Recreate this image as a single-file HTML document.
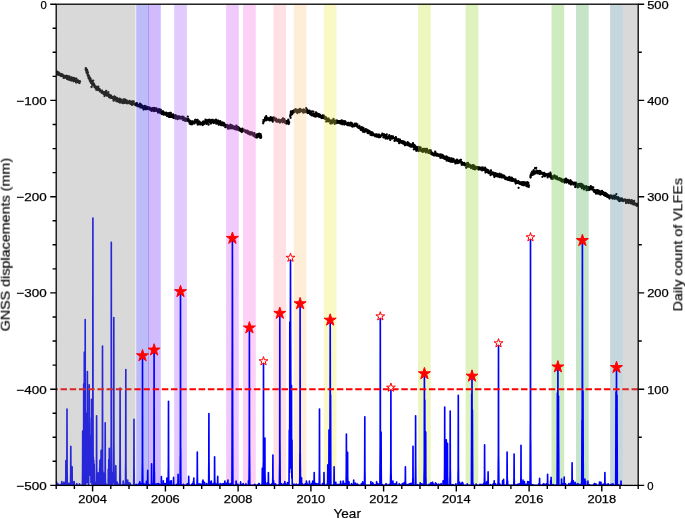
<!DOCTYPE html>
<html lang="en">
<head>
<meta charset="utf-8">
<title>GNSS displacements and daily count of VLFEs</title>
<style>
html,body{margin:0;padding:0;background:#fff;}
body{width:685px;height:519px;overflow:hidden;font-family:"Liberation Sans", sans-serif;}
svg{display:block;}
</style>
</head>
<body>
<svg width="685" height="519" viewBox="0 0 685 519">
<rect width="685" height="519" fill="#fff"/>
<defs><clipPath id="ax"><rect x="56.2" y="4.2" width="582" height="481.2"/></clipPath></defs>
<g clip-path="url(#ax)">
<path d="M57 73.5h0M57.2 71.6h0M57.4 72.6h0M57.6 74.6h0M57.8 74.3h0M58 73.5h0M58.2 73.3h0M58.4 73.7h0M58.6 72.3h0M58.8 74.9h0M59 74.4h0M59.2 74.4h0M59.4 73.1h0M59.6 73.7h0M59.8 75h0M60 74.9h0M60.2 74.4h0M60.4 75.5h0M60.6 75.8h0M60.8 74.4h0M60.9 74.7h0M61.1 74.3h0M61.3 74.1h0M61.5 76.1h0M61.7 75.9h0M61.9 75.7h0M62.1 74.3h0M62.3 74.5h0M62.5 75.5h0M62.8 75.1h0M63 75.8h0M63.2 75.1h0M63.4 76.7h0M63.6 77.9h0M63.8 77.8h0M64 77.9h0M64.2 76.6h0M64.5 77.4h0M64.7 76h0M64.9 77.6h0M65.1 76.1h0M65.3 76.2h0M65.5 76.1h0M65.7 77.6h0M65.9 77.4h0M66.2 77.2h0M66.4 76h0M66.6 77.4h0M66.8 75.8h0M67 78.9h0M67.2 77.5h0M67.4 77.9h0M67.6 77.7h0M67.8 76.2h0M68.1 76.6h0M68.3 78h0M68.5 79.7h0M68.7 77h0M68.9 77.5h0M69.1 78.1h0M69.3 76.6h0M69.5 76.6h0M69.7 78h0M69.9 78.6h0M70.1 78.3h0M70.3 80.1h0M70.5 78.5h0M70.8 79.2h0M71 80.3h0M71.2 80.6h0M71.4 77.4h0M71.6 78.6h0M71.8 80.3h0M72 77.7h0M72.2 78.2h0M72.4 77.9h0M72.6 77.9h0M72.8 78h0M73 79.5h0M73.3 80.8h0M73.5 81.3h0M73.7 79.9h0M73.9 78h0M74.1 79.8h0M74.3 79.5h0M74.5 80.4h0M74.7 80h0M74.9 78.6h0M75.2 81h0M75.4 78.6h0M75.6 80.3h0M75.8 81.2h0M76 81.2h0M76.2 82.5h0M76.4 78.6h0M76.6 81.5h0M76.8 81.9h0M77 80.9h0M77.3 82.1h0M77.5 80.3h0M77.7 82h0M77.9 81.9h0M78.1 80.5h0M78.3 81.1h0M78.6 81.5h0M78.8 81h0M79 82.7h0M79.2 81.9h0M79.4 83.1h0M79.7 82.8h0M79.9 81.7h0M80.1 81.3h0M85.7 69.6h0M85.8 68.7h0M85.8 68.1h0M85.9 68.5h0M85.9 70.2h0M86 68.5h0M86.1 68.6h0M86.1 69.6h0M86.2 70.9h0M86.2 69h0M86.3 70.6h0M86.3 70.7h0M86.4 70.7h0M86.5 70.6h0M86.5 71.9h0M86.6 71.6h0M86.6 69.7h0M86.7 72.9h0M86.8 71.8h0M86.8 71.8h0M86.9 71.4h0M86.9 71.7h0M87 69.7h0M87.1 72.1h0M87.1 73.2h0M87.2 73.5h0M87.3 72.3h0M87.3 70.8h0M87.4 72.2h0M87.5 73.3h0M87.6 75.3h0M87.6 72.4h0M87.7 74.1h0M87.8 75h0M87.8 75.2h0M87.9 74.7h0M88 72.3h0M88 75.9h0M88.1 75.7h0M88.2 76.4h0M88.2 74.9h0M88.3 75.7h0M88.4 77.8h0M88.4 76.4h0M88.5 76.7h0M88.6 76.3h0M88.7 78.3h0M88.8 75.5h0M88.9 76.7h0M89 77.8h0M89.1 77.4h0M89.2 78.5h0M89.3 78.2h0M89.4 79.6h0M89.5 78h0M89.6 78.5h0M89.7 79.3h0M89.8 77.3h0M89.9 80.7h0M90 78.5h0M90.1 80.8h0M90.2 81.4h0M90.3 81.2h0M90.4 80.7h0M90.5 80.1h0M90.6 78.7h0M90.7 81.3h0M90.8 80.6h0M90.9 82.8h0M91 80.9h0M91.1 82.1h0M91.2 81.4h0M91.3 82.5h0M91.5 87h0M91.6 82.4h0M91.8 81h0M91.9 82.1h0M92.1 82.8h0M92.2 84.4h0M92.3 83.6h0M92.5 82.4h0M92.6 85.3h0M92.8 84.1h0M92.9 85h0M93.1 83.1h0M93.2 80.7h0M93.4 83.5h0M93.5 83.6h0M93.7 85.3h0M93.8 83.7h0M93.9 84.5h0M94.1 84.2h0M94.2 85.9h0M94.4 84.9h0M94.5 87.2h0M94.7 86.9h0M94.8 87h0M95 86.3h0M95.2 86.7h0M95.3 87.7h0M95.5 86.1h0M95.7 88.2h0M95.9 87.2h0M96 88.7h0M96.2 89.8h0M96.4 89.2h0M96.5 86.9h0M96.7 89.1h0M96.9 87.5h0M97.1 87.5h0M97.2 87.8h0M97.4 87.2h0M97.6 88.9h0M97.7 87.9h0M97.9 90h0M98.1 89.4h0M98.3 86.7h0M98.4 88.5h0M98.6 88.4h0M98.8 88.9h0M98.9 88.9h0M99.1 89.8h0M99.3 89.6h0M99.5 88.8h0M99.7 90.4h0M99.8 91h0M100 90.4h0M100.2 91.6h0M100.4 91h0M100.6 90.4h0M100.8 90.6h0M101 91.2h0M101.1 91.9h0M101.3 91.5h0M101.5 92.5h0M101.7 92.8h0M101.9 90.8h0M102.1 90.7h0M102.2 91.8h0M102.4 92.6h0M102.6 93.3h0M102.8 93.1h0M103 93.3h0M103.2 91.8h0M103.3 93.3h0M103.5 92.4h0M103.7 93.6h0M103.9 94h0M104.1 92.6h0M104.3 93.2h0M104.5 96h0M104.6 92.7h0M104.8 93h0M105 92.2h0M105.2 92h0M105.4 94.5h0M105.6 92.9h0M105.8 92.9h0M106 92.7h0M106.2 90.8h0M106.4 94.6h0M106.6 93.4h0M106.8 94.1h0M106.9 95.7h0M107.1 94.1h0M107.3 94.4h0M107.5 94.5h0M107.7 95.7h0M107.9 93.1h0M108.1 93.7h0M108.3 92.2h0M108.5 94.5h0M108.7 95.4h0M108.9 94.4h0M109.1 97.3h0M109.2 96.2h0M109.4 97.2h0M109.6 95.5h0M109.8 97.4h0M110 95.1h0M110.2 96.2h0M110.4 96.1h0M110.6 95.7h0M110.8 97.8h0M111 97.5h0M111.2 95.7h0M111.4 97.3h0M111.6 97h0M111.8 97.2h0M112 97.9h0M112.2 96.9h0M112.4 97.8h0M112.6 98.2h0M112.8 97.3h0M113 97.6h0M113.2 98.9h0M113.4 98.2h0M113.6 100.7h0M113.8 100.6h0M114 97.8h0M114.2 98.9h0M114.4 96.5h0M114.6 97.9h0M114.8 97.8h0M114.9 98.1h0M115.1 96.8h0M115.3 99.3h0M115.5 99.3h0M115.7 98.3h0M115.9 99.1h0M116.1 100.1h0M116.3 101.2h0M116.5 98.3h0M116.7 101.2h0M116.9 97.8h0M117.2 98.7h0M117.4 99.3h0M117.6 101.3h0M117.8 100.5h0M118 100.5h0M118.2 101.5h0M118.4 100.4h0M118.7 99.8h0M118.9 101.9h0M119.1 100.1h0M119.3 99h0M119.5 98.7h0M119.7 100.6h0M119.9 102.5h0M120.2 101.4h0M120.4 100.9h0M120.6 102.2h0M120.8 99.4h0M121 101.3h0M121.2 100.4h0M121.4 102.5h0M121.7 100.4h0M121.9 102h0M122.1 101.6h0M122.3 101.3h0M122.5 102.1h0M122.7 101.4h0M122.9 103h0M123.2 101.4h0M123.4 99.3h0M123.6 103h0M123.8 102.9h0M124 102.1h0M124.2 102.9h0M124.5 102.2h0M124.7 100.4h0M124.9 99.3h0M125.1 100.4h0M125.3 101.2h0M125.6 102.1h0M125.8 100.1h0M126 100.6h0M126.2 103h0M126.4 100.8h0M126.6 100.7h0M126.9 100.6h0M127.1 103.3h0M127.3 102.5h0M127.5 102.5h0M127.7 103.2h0M128 102.7h0M128.2 103.2h0M128.4 102.2h0M128.6 102.7h0M128.8 102.6h0M129 102.7h0M129.3 101h0M129.5 101.8h0M129.7 101.6h0M129.9 101.2h0M130.1 102h0M130.4 103.9h0M130.6 103.2h0M130.8 102.6h0M131 102.9h0M131.2 104.2h0M131.4 101.6h0M131.6 103.4h0M131.8 104.6h0M132 104.9h0M132.3 104.1h0M132.5 103.9h0M132.7 101.5h0M132.9 102.8h0M133.1 103.4h0M133.3 103.9h0M133.5 104h0M133.7 101.4h0M133.9 103.3h0M134.1 104.4h0M134.3 103.3h0M134.6 103.8h0M134.8 104.7h0M135 104.6h0M135.2 104.4h0M135.4 105h0M135.6 105.3h0M135.8 104.1h0M136 103.3h0M136.2 103.7h0M136.4 104.1h0M136.6 104.6h0M136.9 103.2h0M137.1 104h0M137.3 104.4h0M137.5 106.2h0M137.7 105.6h0M137.9 104.7h0M138.1 105.8h0M138.3 105.2h0M138.5 105.2h0M138.7 106.3h0M138.9 105.7h0M139.1 105.6h0M139.4 106.1h0M139.6 104.9h0M139.8 105.7h0M140 103.6h0M140.2 105.2h0M140.4 107.4h0M140.6 105.5h0M140.8 105.9h0M141 105.5h0M141.2 104.7h0M141.5 106.5h0M141.7 106.2h0M141.9 107.5h0M142.1 105.6h0M142.3 106.8h0M142.5 106.5h0M142.7 106.2h0M142.9 108h0M143.2 106.3h0M143.4 106.3h0M143.6 109.5h0M143.8 107h0M144 106.9h0M144.2 107.5h0M144.4 106.2h0M144.7 107.6h0M144.9 106h0M145.1 106.8h0M145.3 106.8h0M145.5 108.9h0M145.7 108.3h0M145.9 109.3h0M146.1 109.1h0M146.4 106.7h0M146.6 107.9h0M146.8 106.9h0M147 106.9h0M147.2 108.8h0M147.4 109.1h0M147.6 107.9h0M147.9 108.2h0M148.1 108.3h0M148.3 108.3h0M148.5 108.5h0M148.7 107.3h0M148.9 109h0M149.1 107.8h0M149.3 107.3h0M149.5 108.5h0M149.7 108.9h0M149.9 109.7h0M150.1 109.4h0M150.3 109.4h0M150.5 108.3h0M150.8 109.5h0M151 109.3h0M151.2 109.6h0M151.4 108.4h0M151.6 110.9h0M151.8 110h0M152 109.9h0M152.2 109.4h0M152.4 109.1h0M152.6 110.4h0M152.8 108.2h0M153 109.1h0M153.2 109.3h0M153.4 110.1h0M153.6 109.2h0M153.9 111h0M154.1 107.9h0M154.3 111.1h0M154.5 109.8h0M154.7 110.6h0M154.9 109.4h0M155.1 110.8h0M155.3 109.5h0M155.5 110.1h0M155.7 108.5h0M156 110.6h0M156.2 110.3h0M156.4 108.4h0M156.6 110.3h0M156.8 109.9h0M157 111.1h0M157.2 109.5h0M157.5 110.5h0M157.7 111.6h0M157.9 109.6h0M158.1 112.5h0M158.3 110.8h0M158.5 110.5h0M158.8 109.5h0M159 109.2h0M159.2 112.1h0M159.4 110.8h0M159.6 110.8h0M159.8 112.7h0M160.1 112.2h0M160.3 111.8h0M160.5 110.2h0M160.7 109.7h0M160.9 112.5h0M161.1 111.6h0M161.3 111.6h0M161.5 113.8h0M161.7 111.7h0M161.9 112.3h0M162.1 114.2h0M162.3 112.7h0M162.5 111.7h0M162.7 111.5h0M162.9 113.7h0M163.1 111.3h0M163.3 113.5h0M163.5 114.5h0M163.7 112.8h0M163.8 113.7h0M164 113h0M164.2 114.5h0M164.4 113.6h0M164.6 112.7h0M164.8 113.8h0M165 113.8h0M165.2 113.2h0M165.4 113.5h0M165.6 112.9h0M165.8 113.2h0M166 114.9h0M166.2 112.6h0M166.4 114.8h0M166.6 114.5h0M166.8 114.1h0M167 116.1h0M167.2 115.4h0M167.4 114.1h0M167.6 114.8h0M167.8 115.5h0M168.1 113.2h0M168.3 115h0M168.5 114.4h0M168.7 115h0M168.9 116.9h0M169.1 114.2h0M169.3 114.5h0M169.5 113.7h0M169.7 115.2h0M169.9 115.7h0M170.1 112.8h0M170.3 116.8h0M170.6 116.9h0M170.8 112.9h0M171 114.2h0M171.2 116.1h0M171.4 115.7h0M171.6 116.9h0M171.8 115.4h0M172.1 117.1h0M172.3 114.6h0M172.5 116.6h0M172.7 115.8h0M172.9 116h0M173.1 114.5h0M173.3 115.9h0M173.5 117.9h0M173.8 115.9h0M174 116.4h0M174.2 116.8h0M174.4 115.7h0M174.6 117h0M174.8 117.5h0M175 116.8h0M175.3 115.1h0M175.5 118.6h0M175.7 117.3h0M175.9 117.3h0M176.1 117.2h0M176.3 117h0M176.5 116h0M176.7 117.7h0M177 117.8h0M177.2 118.7h0M177.4 119.2h0M177.6 116.9h0M177.8 119.1h0M178 117.5h0M178.2 118h0M178.5 116.4h0M178.7 117.9h0M178.9 116.6h0M179.1 118.4h0M179.3 116.3h0M179.5 117.5h0M179.7 117.2h0M179.9 118.2h0M180.2 117.9h0M180.4 117.8h0M180.6 117.1h0M180.8 118.5h0M181 118.2h0M181.2 116.8h0M181.4 118.4h0M181.7 117.1h0M181.9 117.9h0M182.1 117.8h0M182.3 118.1h0M182.5 119.1h0M182.7 116.6h0M182.9 119.9h0M183.2 117h0M183.4 120.1h0M183.6 119.4h0M183.8 117.5h0M184 119.5h0M184.2 118.9h0M184.5 117.9h0M184.7 120.3h0M184.9 120.3h0M185.1 119.6h0M185.3 120.9h0M185.5 119.4h0M185.7 119h0M186 120.7h0M186.2 118.7h0M186.4 120.3h0M186.6 120.7h0M186.8 120h0M187 120.1h0M187.2 120.6h0M187.4 120.3h0M187.6 119.5h0M187.8 116.6h0M188.1 119.7h0M188.3 118.8h0M188.5 121.4h0M188.7 119.9h0M188.9 120.8h0M189.1 121.6h0M189.3 122h0M189.5 120.3h0M189.7 123.7h0M189.9 122.6h0M190.1 122.6h0M190.3 121h0M190.6 124.1h0M190.8 123h0M191 123.6h0M191.2 122.1h0M191.4 124.2h0M191.6 123.8h0M191.8 122.1h0M192 124.3h0M192.2 121.4h0M192.4 123.3h0M192.6 123h0M192.9 123.1h0M193.1 121.7h0M193.3 122h0M193.5 123.3h0M193.7 123.3h0M193.9 122.1h0M194.1 121.9h0M194.4 121.5h0M194.6 123.4h0M194.8 121.9h0M195 121.4h0M195.2 120h0M195.4 120.1h0M195.6 120.7h0M195.9 119.9h0M196.1 121.8h0M196.3 122h0M196.5 121.3h0M196.7 121.8h0M196.9 122.5h0M197.1 120.9h0M197.3 123.4h0M197.6 119.9h0M197.8 124.7h0M198 121.3h0M198.2 123h0M198.4 122.4h0M198.6 123.2h0M198.8 122.2h0M199.1 123.4h0M199.3 121.5h0M199.5 124h0M199.7 123h0M199.9 123.8h0M200.1 124.6h0M200.3 122.4h0M200.6 122.8h0M200.8 122.6h0M201 123.3h0M201.2 123.5h0M201.4 124h0M201.6 123.4h0M201.9 122.9h0M202.1 123.7h0M202.3 124.1h0M202.5 123.9h0M202.7 125h0M203 122.2h0M203.2 123h0M203.4 121.3h0M203.6 122.2h0M203.8 123.4h0M204 124h0M204.3 122.1h0M204.5 122.8h0M204.7 122.3h0M204.9 122.7h0M205.1 122.5h0M205.3 121.5h0M205.5 119.7h0M205.7 120.4h0M205.9 122.2h0M206.1 121.6h0M206.4 123.9h0M206.6 121.7h0M206.8 122.5h0M207 120.5h0M207.2 120.2h0M207.4 121.8h0M207.6 123h0M207.8 121.9h0M208 121h0M208.2 121.5h0M208.4 121.7h0M208.6 124.7h0M208.8 121.2h0M209 120h0M209.2 120h0M209.4 120.6h0M209.6 121.1h0M209.8 119.9h0M210 122.6h0M210.3 121.6h0M210.5 120.6h0M210.7 121.7h0M210.9 123.5h0M211.1 121.4h0M211.4 121.3h0M211.6 122.2h0M211.8 120h0M212 121.1h0M212.2 120.8h0M212.5 122.3h0M212.7 120h0M212.9 121.9h0M213.1 121h0M213.3 121.2h0M213.6 121.1h0M213.8 123.1h0M214 120.6h0M214.2 120.3h0M214.4 121.8h0M214.7 121h0M214.9 122.2h0M215.1 121.5h0M215.3 121.8h0M215.5 121.8h0M215.7 120.1h0M216 119.7h0M216.2 123.7h0M216.4 120.5h0M216.6 122.2h0M216.8 120.6h0M217 121.6h0M217.2 121.6h0M217.4 123.4h0M217.6 121.9h0M217.8 120.6h0M218.1 120.7h0M218.3 122.5h0M218.5 123.3h0M218.7 124.6h0M218.9 124.8h0M219.1 121.3h0M219.3 122.5h0M219.5 121.6h0M219.7 123.2h0M219.9 123.9h0M220.2 121.2h0M220.4 124h0M220.5 124h0M220.7 123.1h0M220.9 122.7h0M221.1 125.2h0M221.3 123.6h0M221.5 122.6h0M221.7 124h0M221.9 125h0M222.1 124.9h0M222.2 122.3h0M222.4 122.9h0M222.6 123.9h0M222.8 124.4h0M223 124.6h0M223.2 123.2h0M223.4 125.5h0M223.6 125h0M223.7 122.9h0M223.9 123.7h0M224.1 124.7h0M224.3 123.4h0M224.5 125.1h0M224.7 125.4h0M224.9 125h0M225.1 125.9h0M225.3 127.2h0M225.5 124.9h0M225.7 126h0M225.9 125.2h0M226.1 127.1h0M226.3 126.9h0M226.5 125.8h0M226.7 125.2h0M227 126.8h0M227.2 125.8h0M227.4 124.8h0M227.6 125.2h0M227.8 126.1h0M228 128.7h0M228.2 127.7h0M228.5 128h0M228.7 127.7h0M228.9 128.3h0M229.1 128.4h0M229.3 125.8h0M229.5 127.7h0M229.7 127.7h0M230 127.5h0M230.2 127.7h0M230.4 124.7h0M230.6 127.5h0M230.8 126.3h0M231 128.4h0M231.2 126.9h0M231.5 127h0M231.7 127.4h0M231.9 125.5h0M232.1 127.2h0M232.3 126.2h0M232.5 128.2h0M232.8 126.8h0M233 126.4h0M233.2 128.6h0M233.4 127.1h0M233.6 126.4h0M233.8 127.3h0M234.1 127.3h0M234.3 127.9h0M234.5 126.7h0M234.7 128.7h0M234.9 128.1h0M235.1 129.3h0M235.4 128.2h0M235.6 126.9h0M235.8 129.2h0M236 127.8h0M236.2 128.1h0M236.4 125.6h0M236.7 126.9h0M236.9 129.7h0M237.1 129.6h0M237.3 126.6h0M237.5 128.8h0M237.7 128.9h0M237.9 129.8h0M238.2 127.6h0M238.4 127.2h0M238.6 129.2h0M238.8 128.3h0M239 128.5h0M239.2 128.3h0M239.4 130.4h0M239.6 128.4h0M239.8 130.4h0M240 130.1h0M240.2 128.9h0M240.4 130.8h0M240.6 131.2h0M240.9 130.4h0M241.1 129.9h0M241.3 130.9h0M241.5 129.4h0M241.7 130.7h0M241.9 132h0M242.1 129.1h0M242.3 128.7h0M242.5 131.2h0M242.7 129.5h0M242.9 130.1h0M243.1 130.7h0M243.4 129.9h0M243.6 130.7h0M243.8 129.7h0M244 130.2h0M244.2 130.5h0M244.4 131.3h0M244.6 130.3h0M244.8 131.1h0M245 131.5h0M245.2 131.4h0M245.4 130.8h0M245.6 132.3h0M245.8 130.4h0M246 132.2h0M246.2 132.3h0M246.4 132.3h0M246.6 131.2h0M246.9 132.8h0M247.1 132.5h0M247.3 130.8h0M247.5 131.6h0M247.7 130.8h0M247.9 132.6h0M248.1 133.7h0M248.3 133.4h0M248.5 131.6h0M248.7 131.6h0M248.9 132.5h0M249.1 132.7h0M249.3 133.7h0M249.5 132.9h0M249.7 134.4h0M249.9 132.8h0M250.1 134.5h0M250.3 132.2h0M250.5 133.1h0M250.7 133.8h0M250.9 134.4h0M251.2 134.2h0M251.4 132.8h0M251.6 132.4h0M251.8 133.8h0M252 133.9h0M252.2 133.7h0M252.4 134.2h0M252.6 133h0M252.8 134.9h0M253 135.5h0M253.2 133.8h0M253.4 133.7h0M253.6 135.8h0M253.8 135.6h0M254 133.8h0M254.2 134h0M254.4 133.1h0M254.6 135.3h0M254.8 135h0M255 134.9h0M255.2 137.2h0M255.4 134.9h0M255.6 135.1h0M255.9 135.5h0M256.1 135.1h0M256.3 136.5h0M256.5 135.2h0M256.7 135.5h0M256.9 137.6h0M257.1 134.8h0M257.3 134.2h0M257.6 135.6h0M257.8 135h0M258 135h0M258.2 135.9h0M258.4 136.6h0M258.6 134.2h0M258.8 135.5h0M259.1 133.6h0M259.3 136.5h0M259.5 134.6h0M259.7 136.4h0M259.9 137.5h0M260.1 137.3h0M260.3 136.4h0M260.6 134.2h0M260.8 137.9h0M261 135.7h0M261.2 137h0M263.2 123.3h0M263.3 121.9h0M263.4 120.1h0M263.4 122.6h0M263.5 122.4h0M263.6 121.6h0M263.7 121.4h0M263.7 121.1h0M263.8 121.4h0M263.9 121.4h0M264 121.2h0M264.1 120.3h0M264.2 120.1h0M264.4 120.7h0M264.5 120.9h0M264.7 120.6h0M264.9 119.2h0M265 117.7h0M265.2 119.1h0M265.3 118.9h0M265.5 118.9h0M265.6 119.2h0M265.8 118.1h0M266 118.6h0M266.2 116.2h0M266.4 120.3h0M266.6 118.5h0M266.9 118.3h0M267.1 119.3h0M267.3 118.5h0M267.5 118h0M267.7 119.6h0M268 118.8h0M268.2 118.1h0M268.4 119.6h0M268.6 119.4h0M268.9 119.5h0M269.1 118.9h0M269.3 120.3h0M269.5 118.3h0M269.7 119.9h0M270 120.4h0M270.2 118h0M270.4 119.1h0M270.6 117.2h0M270.8 119.1h0M271.1 117.3h0M271.3 117.7h0M271.5 119.2h0M271.7 120.2h0M271.9 119.6h0M272.1 118.9h0M272.3 118.2h0M272.6 119.1h0M272.8 121.7h0M273 120.6h0M273.2 117.7h0M273.4 118.3h0M273.6 117.5h0M273.8 119.5h0M274.1 118.8h0M274.3 117.6h0M274.5 119.2h0M274.7 118.9h0M274.9 118.5h0M275.1 119.1h0M275.3 120.6h0M275.6 119h0M275.8 119.5h0M276 118.6h0M276.2 119.7h0M276.4 121.6h0M276.6 120.9h0M276.9 119.7h0M277.1 119.9h0M277.3 121.7h0M277.5 120.4h0M277.7 120.2h0M278 121.7h0M278.2 120.2h0M278.4 120h0M278.6 121.3h0M278.8 119.6h0M279.1 120.4h0M279.3 120.1h0M279.5 121h0M279.7 120.7h0M279.9 122.5h0M280.1 121.2h0M280.4 120.6h0M280.6 121h0M280.8 120.2h0M281 120.6h0M281.2 121h0M281.5 120.8h0M281.7 121.6h0M281.9 120.8h0M282.1 119.5h0M282.3 120.6h0M282.6 119.2h0M282.8 122.3h0M283 118.3h0M283.2 120h0M283.4 120.7h0M283.7 119.3h0M283.9 119.9h0M284.1 121.5h0M284.3 119.2h0M284.6 121.6h0M284.8 120.6h0M285 120.5h0M285.2 123h0M285.4 121.9h0M285.7 121.7h0M285.9 121h0M286.1 121.7h0M286.3 121.5h0M286.5 123.6h0M286.8 122.2h0M287 121.1h0M287.2 121.5h0M287.4 122.5h0M287.7 121h0M287.9 121.3h0M288.1 120.3h0M288.3 119.7h0M288.5 124.1h0M288.8 121.5h0M289 123.5h0M289.2 122.3h0M290.2 116.3h0M290.3 115.4h0M290.3 116.6h0M290.4 115.3h0M290.4 115.7h0M290.5 115.9h0M290.6 117.8h0M290.6 114.3h0M290.7 115h0M290.7 114.2h0M290.8 112.9h0M290.9 111.4h0M290.9 112.2h0M291 113.4h0M291 114.4h0M291.1 112.3h0M291.2 112.9h0M291.3 111.6h0M291.5 113.3h0M291.7 114.1h0M291.8 111.4h0M292 112.3h0M292.2 114.3h0M292.4 111.6h0M292.6 111.2h0M292.7 112h0M292.9 112.1h0M293.1 111.5h0M293.3 111.7h0M293.5 112.7h0M293.7 110.6h0M293.8 112.5h0M294 110.5h0M294.2 111.9h0M294.4 111.9h0M294.6 110.9h0M294.8 110.4h0M295.1 109.8h0M295.3 109.3h0M295.5 111.5h0M295.7 109.2h0M295.9 110.9h0M296.2 110.4h0M296.4 111.9h0M296.6 110.4h0M296.8 112.2h0M297 110.9h0M297.3 113.1h0M297.5 110.5h0M297.7 110.4h0M297.9 109.9h0M298.1 111.9h0M298.4 110.3h0M298.6 111.8h0M298.8 110.5h0M299 109.7h0M299.2 112.3h0M299.4 112h0M299.7 110.2h0M299.9 111.9h0M300.1 109h0M300.3 111.5h0M300.5 110.4h0M300.8 110.9h0M301 110.4h0M301.2 110.8h0M301.4 110.4h0M301.6 110h0M301.8 110.5h0M302.1 110.9h0M302.3 111.6h0M302.5 111.1h0M302.7 110.2h0M302.9 110.8h0M303.2 110.6h0M303.4 112.7h0M303.6 109.5h0M303.8 110.9h0M304 109.6h0M304.2 111.4h0M304.5 110.1h0M304.7 110.7h0M304.9 110.1h0M305.1 111.7h0M305.3 112.2h0M305.5 111.6h0M305.7 111.8h0M305.9 111.5h0M306.1 108.1h0M306.3 110.1h0M306.5 111.4h0M306.7 110.9h0M306.9 110h0M307.1 109.4h0M307.3 110.6h0M307.5 113h0M307.7 110.6h0M307.9 112.9h0M308.1 111.2h0M308.3 112.7h0M308.5 112.4h0M308.7 111.1h0M308.9 111.5h0M309.1 111.7h0M309.3 112.9h0M309.5 110.7h0M309.7 112.2h0M309.9 111.9h0M310.1 114.3h0M310.3 111.4h0M310.5 113.1h0M310.7 113.2h0M310.9 114.5h0M311.1 114.2h0M311.3 111.7h0M311.5 115.3h0M311.7 113.3h0M311.9 114.2h0M312.1 111.3h0M312.4 115.2h0M312.6 114.1h0M312.8 114.3h0M313 113.9h0M313.2 115.7h0M313.4 111.6h0M313.6 114.4h0M313.8 113.7h0M314.1 114.7h0M314.3 116.3h0M314.5 113.8h0M314.7 114.8h0M314.9 113.8h0M315.1 115.7h0M315.3 114.8h0M315.5 115.9h0M315.8 116.7h0M316 112.4h0M316.2 112.8h0M316.4 114.2h0M316.6 115.1h0M316.8 114.5h0M317 115.9h0M317.3 115.2h0M317.5 113.7h0M317.7 115.1h0M317.9 114.3h0M318.1 114.2h0M318.3 115.3h0M318.5 115.4h0M318.7 116.7h0M319 114.5h0M319.2 114.4h0M319.4 116.8h0M319.6 116h0M319.8 116.3h0M320 116.2h0M320.2 114.8h0M320.4 115.3h0M320.6 116.9h0M320.9 116.8h0M321.1 116.5h0M321.3 117.3h0M321.5 118h0M321.7 116.3h0M321.9 117.2h0M322.1 117.5h0M322.3 116.5h0M322.6 116.2h0M322.8 115.5h0M323 117.9h0M323.2 117.2h0M323.4 117h0M323.6 116.4h0M323.8 118.1h0M324 115.6h0M324.2 118.1h0M324.4 118.6h0M324.6 117.7h0M324.8 116.9h0M325 117h0M325.2 119h0M325.4 118h0M325.6 119h0M325.8 117.8h0M326 117.4h0M326.2 121.6h0M326.4 118.1h0M326.6 119.8h0M326.8 120.3h0M327 119h0M327.2 119.1h0M327.4 119.3h0M327.6 120.9h0M327.8 119.1h0M328 120h0M328.2 121.4h0M328.4 118.7h0M328.6 118.7h0M328.8 120h0M329 119.8h0M329.2 121h0M329.4 121h0M329.6 120.3h0M329.8 121.2h0M330.1 120.4h0M330.3 123.3h0M330.5 122h0M330.7 120.9h0M330.9 123.6h0M331.1 121.3h0M331.4 122h0M331.6 120.7h0M331.8 120.4h0M332 123.2h0M332.2 121.3h0M332.4 120.7h0M332.6 120.8h0M332.9 122.2h0M333.1 121.1h0M333.3 120.7h0M333.5 119h0M333.7 121h0M333.9 121.9h0M334.2 121.2h0M334.4 121h0M334.6 123.8h0M334.8 122.2h0M335 121.1h0M335.2 122h0M335.5 120.6h0M335.7 122.2h0M335.9 123.3h0M336.1 121.3h0M336.3 122.9h0M336.5 121.2h0M336.8 120.4h0M337 121.6h0M337.2 121.5h0M337.4 122.8h0M337.6 122h0M337.9 121.2h0M338.1 121.6h0M338.3 122h0M338.5 122.5h0M338.7 121.1h0M338.9 121.6h0M339.2 122.1h0M339.4 121.1h0M339.6 123.2h0M339.8 122.3h0M340 121.1h0M340.3 121.5h0M340.5 123.6h0M340.7 121.9h0M340.9 121.4h0M341.1 123.2h0M341.3 123.6h0M341.6 120.5h0M341.8 122.5h0M342 123.9h0M342.2 124.3h0M342.4 123.2h0M342.6 122.7h0M342.8 120.8h0M343.1 122.8h0M343.3 121.5h0M343.5 121.8h0M343.7 123.2h0M343.9 122h0M344.1 122.4h0M344.3 124.6h0M344.6 123.6h0M344.8 121.2h0M345 122h0M345.2 121.5h0M345.4 123.2h0M345.6 121.9h0M345.8 123h0M346.1 123.7h0M346.3 124.2h0M346.5 123.9h0M346.7 124.2h0M346.9 124.1h0M347.1 123.3h0M347.3 125.1h0M347.6 124.3h0M347.8 123.5h0M348 123h0M348.2 124.3h0M348.4 125.2h0M348.6 124.4h0M348.8 123h0M349.1 123.7h0M349.3 123.3h0M349.5 124.1h0M349.7 125.4h0M349.9 124.7h0M350.1 124.4h0M350.3 123.9h0M350.5 123.9h0M350.7 124.6h0M350.9 122.7h0M351.2 124.3h0M351.4 122.8h0M351.6 125.9h0M351.8 123.9h0M352 125.8h0M352.2 123.5h0M352.4 126.7h0M352.6 125.9h0M352.8 125.3h0M353 124.8h0M353.2 125h0M353.5 125.1h0M353.7 126.2h0M353.9 125.9h0M354.1 126.3h0M354.3 125.1h0M354.5 125.4h0M354.7 124.1h0M354.9 123.7h0M355.1 125.8h0M355.3 125h0M355.5 125.6h0M355.8 125.5h0M356 125.2h0M356.2 125.5h0M356.4 123.7h0M356.6 125.5h0M356.8 126.2h0M357 125.9h0M357.2 126.5h0M357.4 124.3h0M357.6 127.2h0M357.8 127.1h0M358 127.4h0M358.2 127.1h0M358.4 127.4h0M358.6 127.9h0M358.8 126.6h0M359 127h0M359.2 127.8h0M359.4 126h0M359.6 128.3h0M359.8 127.1h0M360 127.6h0M360.2 127.5h0M360.4 128.6h0M360.6 127.3h0M360.8 129.9h0M361 128.1h0M361.2 127.8h0M361.4 130.1h0M361.6 128.6h0M361.8 127.1h0M362 128.8h0M362.2 129.6h0M362.4 130.3h0M362.6 130h0M362.8 129.2h0M363 131.7h0M363.2 129.4h0M363.4 128h0M363.6 131.7h0M363.8 131.1h0M364 130.7h0M364.2 132.1h0M364.4 130.9h0M364.6 130.1h0M364.8 130.5h0M364.9 129.4h0M365.1 130.7h0M365.3 129.6h0M365.5 129.5h0M365.7 129.1h0M365.9 130.7h0M366.1 131.4h0M366.3 130.5h0M366.5 129.3h0M366.7 130.2h0M366.9 131.1h0M367.1 131h0M367.3 130.7h0M367.5 130.2h0M367.7 133.1h0M367.9 131.7h0M368.1 132.1h0M368.3 132h0M368.5 130.7h0M368.7 133.2h0M368.9 131.6h0M369.1 131.8h0M369.3 131.5h0M369.5 131.1h0M369.7 132.6h0M369.9 131.7h0M370.1 132.8h0M370.3 133.4h0M370.5 134.8h0M370.7 131.8h0M370.9 134.6h0M371.1 134.8h0M371.3 132.9h0M371.5 133.8h0M371.7 134.7h0M371.9 132.7h0M372.1 135.3h0M372.3 132.3h0M372.5 134.5h0M372.7 134.3h0M372.9 133.3h0M373.1 133.5h0M373.3 134.4h0M373.5 134.2h0M373.7 134.4h0M373.9 134.2h0M374.1 135.4h0M374.3 135h0M374.5 134.8h0M374.7 135.1h0M374.9 135.2h0M375.1 136.3h0M375.3 135.3h0M375.5 135.4h0M375.7 134.6h0M375.9 134.3h0M376.1 135h0M376.3 135.5h0M376.6 134.4h0M376.8 136.7h0M377 134.7h0M377.2 135.9h0M377.4 135h0M377.7 135.9h0M377.9 136.3h0M378.1 136.8h0M378.3 134.6h0M378.5 136.8h0M378.8 135.2h0M379 137.3h0M379.2 134.6h0M379.4 135.3h0M379.6 136h0M379.9 137.2h0M380.1 136h0M380.3 137h0M380.5 136.3h0M380.7 136.5h0M381 135.7h0M381.2 135.5h0M381.4 135.7h0M381.6 135.5h0M381.8 135h0M382.1 135.1h0M382.3 133.7h0M382.5 134.3h0M382.7 135.1h0M382.9 135.2h0M383.1 134.4h0M383.4 137.4h0M383.6 134.4h0M383.8 135.8h0M384 136.3h0M384.2 134.4h0M384.4 136h0M384.6 135.5h0M384.9 134.8h0M385.1 136.5h0M385.3 137h0M385.5 138.6h0M385.7 137.2h0M385.9 135.3h0M386.1 137.6h0M386.4 135h0M386.6 136.4h0M386.8 134.4h0M387 137.5h0M387.2 136.9h0M387.4 138.7h0M387.7 138h0M387.9 136.9h0M388.1 137.8h0M388.3 138.3h0M388.5 136.7h0M388.7 136.9h0M388.9 137.6h0M389.2 135.5h0M389.4 135.5h0M389.6 137.8h0M389.8 137.3h0M390 137.2h0M390.2 139.9h0M390.4 137.9h0M390.7 138.9h0M390.9 137.9h0M391.1 137.7h0M391.3 137.1h0M391.5 136.2h0M391.7 137.8h0M391.9 137.4h0M392.2 138.6h0M392.4 137.2h0M392.6 137.1h0M392.8 137.9h0M393 136.3h0M393.2 137.2h0M393.4 138.1h0M393.7 137.9h0M393.9 137.9h0M394.1 138.4h0M394.3 138.6h0M394.5 140.9h0M394.7 138.5h0M394.9 137.8h0M395.1 139.7h0M395.3 139.1h0M395.5 138.4h0M395.7 140.4h0M395.9 137.1h0M396.1 139h0M396.3 138.5h0M396.5 139.4h0M396.7 139.6h0M396.9 139.8h0M397.1 140.4h0M397.3 139.2h0M397.5 139.6h0M397.7 141.1h0M397.9 140.2h0M398.1 140h0M398.4 139.5h0M398.6 140.5h0M398.8 139.4h0M399 142.1h0M399.2 143.2h0M399.4 141.3h0M399.6 140.3h0M399.8 142.1h0M400 139.6h0M400.2 141.9h0M400.4 141.3h0M400.6 142.4h0M400.8 140.8h0M401 141.4h0M401.2 142.4h0M401.4 141.2h0M401.6 142.8h0M401.8 141.1h0M402 141.4h0M402.2 143.2h0M402.4 141.3h0M402.5 141.7h0M402.7 141.3h0M402.9 141.2h0M403.1 143.5h0M403.3 142.9h0M403.5 141.6h0M403.7 142.2h0M403.9 142.9h0M404.1 144h0M404.3 143.6h0M404.5 143.6h0M404.7 142h0M404.9 145.3h0M405.1 143h0M405.3 143.7h0M405.5 143.3h0M405.7 144.8h0M405.9 144h0M406.1 144.4h0M406.3 143.6h0M406.5 143.6h0M406.7 144.1h0M406.9 144.5h0M407.1 144.8h0M407.3 144.7h0M407.5 144.9h0M407.7 142.2h0M407.9 144.4h0M408.1 144.9h0M408.3 145.4h0M408.5 144.2h0M408.7 143.5h0M408.9 143.4h0M409.1 144.1h0M409.4 143.6h0M409.6 145.1h0M409.8 146.2h0M410 144.4h0M410.2 144.6h0M410.4 144.8h0M410.6 144.6h0M410.8 146.7h0M411 144.7h0M411.2 146.7h0M411.4 145.7h0M411.6 144.6h0M411.8 145.5h0M412 145.3h0M412.2 144.5h0M412.4 145.1h0M412.6 146.7h0M412.8 145.8h0M413 143.2h0M413.2 146.8h0M413.4 146.8h0M413.6 146.8h0M413.8 149.4h0M414 144.8h0M414.2 146.9h0M414.4 147.8h0M414.6 145.2h0M414.8 147.8h0M414.9 146.9h0M415.1 146.1h0M415.3 149.1h0M415.5 148.2h0M415.7 146.8h0M415.9 147.9h0M416.1 146.9h0M416.3 150.8h0M416.5 147h0M416.7 148.7h0M416.9 148.2h0M417.1 150.2h0M417.3 149h0M417.5 149.1h0M417.7 149.5h0M417.9 148.9h0M418.1 149.8h0M418.3 150.8h0M418.5 151.1h0M418.7 146.8h0M418.9 149.5h0M419.1 150h0M419.3 149.6h0M419.6 150.5h0M419.8 149.1h0M420 150h0M420.2 147.9h0M420.4 148h0M420.6 147.5h0M420.9 149.8h0M421.1 149.8h0M421.3 151.1h0M421.5 149.9h0M421.7 150.5h0M421.9 149.3h0M422.2 151.4h0M422.4 150.4h0M422.6 150.4h0M422.8 151.9h0M423 148.8h0M423.3 150.6h0M423.5 150.3h0M423.7 150.8h0M423.9 150.8h0M424.1 151.1h0M424.3 148.9h0M424.6 150.5h0M424.8 149.8h0M425 150.7h0M425.2 149.4h0M425.4 151.4h0M425.6 151.3h0M425.8 152.4h0M426 149h0M426.2 149.4h0M426.5 150.4h0M426.7 150.5h0M426.9 148.8h0M427.1 149.4h0M427.3 150.3h0M427.5 151.5h0M427.7 151.3h0M427.9 150.9h0M428.2 152.8h0M428.4 152.5h0M428.6 151.8h0M428.8 151.3h0M429 152h0M429.2 151.4h0M429.4 153.1h0M429.6 150.1h0M429.9 151.5h0M430.1 151.5h0M430.3 152h0M430.5 151.4h0M430.7 150.4h0M430.9 152.2h0M431.1 154h0M431.3 152.1h0M431.5 153.2h0M431.7 153.4h0M431.9 153h0M432.1 152.6h0M432.3 152.9h0M432.5 154.7h0M432.7 153.7h0M432.9 153.6h0M433.1 153.5h0M433.4 153.9h0M433.6 155.3h0M433.8 155.3h0M434 154.4h0M434.2 154.2h0M434.4 155.4h0M434.6 155.4h0M434.8 154.5h0M435 153.3h0M435.2 151.7h0M435.4 152.8h0M435.6 154h0M435.8 154.8h0M436 154.3h0M436.2 153.9h0M436.4 155.6h0M436.6 154.6h0M436.8 154h0M437 153.8h0M437.2 155.8h0M437.4 154.6h0M437.7 155.5h0M437.9 155.3h0M438.1 155.2h0M438.3 155.1h0M438.5 155.7h0M438.7 154.3h0M438.9 156.1h0M439.1 155.2h0M439.3 155.1h0M439.5 155.6h0M439.7 155.4h0M439.9 155.8h0M440.1 155.1h0M440.3 157.8h0M440.5 154.3h0M440.7 155.9h0M440.9 155.3h0M441.1 154.6h0M441.3 156.3h0M441.6 157.5h0M441.8 155.6h0M442 157.7h0M442.2 154.8h0M442.4 156.4h0M442.6 155.4h0M442.8 155.2h0M443 155.6h0M443.2 155.8h0M443.4 156.8h0M443.6 158.3h0M443.9 157.7h0M444.1 158.5h0M444.3 157h0M444.5 156.7h0M444.7 158.7h0M444.9 158.9h0M445.1 156.8h0M445.3 157.5h0M445.5 158.3h0M445.7 157.7h0M445.9 156.7h0M446.2 158.5h0M446.4 156.3h0M446.6 160.5h0M446.8 158.8h0M447 157.2h0M447.2 159.5h0M447.4 160h0M447.6 160h0M447.8 159.1h0M448 157.7h0M448.2 158.1h0M448.5 160.9h0M448.7 159h0M448.9 158.5h0M449.1 159h0M449.3 157.9h0M449.5 159.1h0M449.7 159.8h0M449.9 159h0M450.1 161.5h0M450.3 158.9h0M450.5 161.1h0M450.8 160.5h0M451 161.7h0M451.2 160.5h0M451.4 158.3h0M451.6 159h0M451.8 160.5h0M452 159.6h0M452.2 161.9h0M452.4 159h0M452.6 161.6h0M452.8 160.5h0M453 161.2h0M453.3 161.6h0M453.5 159h0M453.7 160.4h0M453.9 161.6h0M454.1 161.4h0M454.3 160.1h0M454.5 160.8h0M454.7 161.3h0M454.9 161h0M455.1 162.2h0M455.3 163.4h0M455.5 162.6h0M455.8 160.7h0M456 161h0M456.2 162.6h0M456.4 162.9h0M456.6 161.2h0M456.8 161.5h0M457 159.7h0M457.2 163.2h0M457.4 161.9h0M457.6 161.4h0M457.8 162.4h0M458 162h0M458.3 162.9h0M458.5 160.8h0M458.7 161.8h0M458.9 160.7h0M459.1 161.9h0M459.3 161.5h0M459.5 160.6h0M459.7 160.9h0M459.9 162.4h0M460.1 161.1h0M460.3 162h0M460.5 159.9h0M460.8 162.7h0M461 159.9h0M461.2 161.9h0M461.4 162.6h0M461.6 164.8h0M461.8 163.3h0M462 162.2h0M462.2 163h0M462.4 164h0M462.6 164.2h0M462.8 163.5h0M463.1 164.8h0M463.3 164.6h0M463.5 163.2h0M463.7 164.2h0M463.9 164.6h0M464.1 162.8h0M464.3 163.4h0M464.5 164.6h0M464.7 164.2h0M464.9 165.3h0M465.2 165.2h0M465.4 164.1h0M465.6 165.6h0M465.8 164.9h0M466 165.6h0M466.2 167.8h0M466.4 164.4h0M466.6 163.5h0M466.8 166h0M467 164.5h0M467.2 164.6h0M467.5 166.3h0M467.7 164.9h0M467.9 162.9h0M468.1 166.7h0M468.3 165h0M468.5 164.5h0M468.7 165.8h0M468.9 165.8h0M469.1 165h0M469.3 166.7h0M469.6 164.6h0M469.8 166.2h0M470 165.7h0M470.2 166.7h0M470.4 166.7h0M470.6 165.4h0M470.8 165.7h0M471 168.1h0M471.2 167.5h0M471.4 167.4h0M471.7 167.6h0M471.9 167h0M472.1 165.4h0M472.3 166.7h0M472.5 166.9h0M472.7 167.4h0M472.9 165.2h0M473.2 168.9h0M473.4 166.7h0M473.6 168.2h0M473.8 165.4h0M474 168.2h0M474.2 167h0M474.4 169.1h0M474.7 167.4h0M474.9 169.4h0M475.1 169.1h0M475.3 166.8h0M475.5 167h0M475.7 167h0M475.9 167.9h0M476.2 168.2h0M476.4 167.1h0M476.6 167.5h0M476.8 167.8h0M477 168.5h0M477.2 167.1h0M477.4 168.3h0M477.6 168.5h0M477.9 169h0M478.1 167.2h0M478.3 169.3h0M478.5 169.5h0M478.7 168.4h0M478.9 167.9h0M479.1 168.3h0M479.4 167.5h0M479.6 168.1h0M479.8 169.3h0M480 168.1h0M480.2 168.4h0M480.4 168.3h0M480.6 168.7h0M480.8 169.6h0M481 169.6h0M481.3 167.6h0M481.5 168.9h0M481.7 169.1h0M481.9 170.1h0M482.1 170.4h0M482.3 168.9h0M482.5 168.9h0M482.7 167.3h0M482.9 169.8h0M483.2 169.9h0M483.4 169.5h0M483.6 168.3h0M483.8 169.6h0M484 169.4h0M484.2 169.2h0M484.4 169.9h0M484.6 168.5h0M484.8 169.5h0M485.1 167.7h0M485.3 171h0M485.5 172.6h0M485.7 169h0M485.9 171.3h0M486.1 170.6h0M486.3 170.3h0M486.5 171.8h0M486.7 169.7h0M486.9 171.5h0M487.2 170.8h0M487.4 171.2h0M487.6 169.8h0M487.8 171.5h0M488 172.4h0M488.2 172.2h0M488.4 170.3h0M488.6 173.2h0M488.8 172.6h0M489 172.8h0M489.2 173.1h0M489.4 171.8h0M489.6 173.3h0M489.8 172.7h0M490 172.2h0M490.2 172.6h0M490.4 173.7h0M490.6 175.2h0M490.8 172.4h0M491 170.4h0M491.2 173.5h0M491.4 172.4h0M491.6 173.1h0M491.8 172.7h0M492 173.8h0M492.2 173.5h0M492.4 172.5h0M492.6 173.1h0M492.8 172.8h0M493 173.4h0M493.2 173.6h0M493.4 174.7h0M493.6 172.7h0M493.8 175.5h0M494 173.3h0M494.2 174.9h0M494.4 177h0M494.6 174.4h0M494.8 175.8h0M495 174.8h0M495.2 174.1h0M495.4 175.8h0M495.6 173.2h0M495.8 175.4h0M496 174.8h0M496.3 175.9h0M496.5 175.9h0M496.7 175.5h0M496.9 175.1h0M497.1 176.3h0M497.3 173.9h0M497.5 176h0M497.7 176.3h0M497.9 174.4h0M498.1 175.3h0M498.3 175.7h0M498.5 176.6h0M498.7 175.5h0M498.9 175.1h0M499.1 175h0M499.3 174.7h0M499.5 173.7h0M499.8 177.1h0M500 176.8h0M500.2 176.4h0M500.4 175.2h0M500.6 176.5h0M500.8 177.1h0M501 175.6h0M501.2 176.3h0M501.4 174.5h0M501.6 176.1h0M501.9 177.6h0M502.1 177.2h0M502.3 177.3h0M502.5 176.9h0M502.7 175.9h0M502.9 175.4h0M503.1 175.8h0M503.3 176.7h0M503.5 176.6h0M503.7 177.6h0M504 175.6h0M504.2 177.7h0M504.4 175.9h0M504.6 177.3h0M504.8 177.4h0M505 178.8h0M505.2 177.6h0M505.4 177.9h0M505.6 178.3h0M505.8 177.4h0M506.1 179.3h0M506.3 177.8h0M506.5 178.1h0M506.7 179.2h0M506.9 178.4h0M507.1 177.9h0M507.3 179.3h0M507.5 179.1h0M507.7 178.1h0M508 180.1h0M508.2 177.9h0M508.4 179.9h0M508.6 179.7h0M508.8 178.8h0M509 178.5h0M509.2 179.5h0M509.4 176.9h0M509.6 177.6h0M509.8 180.3h0M510 178.3h0M510.2 179.6h0M510.5 179.9h0M510.7 178.5h0M510.9 180.5h0M511.1 178.3h0M511.3 179.5h0M511.5 179.6h0M511.7 177.6h0M511.9 180.9h0M512.1 178.2h0M512.3 178.6h0M512.5 180.9h0M512.7 178.9h0M513 180.3h0M513.2 179.6h0M513.4 179.5h0M513.6 179.1h0M513.8 179.7h0M514 180.1h0M514.2 180.5h0M514.4 179.6h0M514.6 181.5h0M514.8 180.6h0M515 181.3h0M515.2 180.1h0M515.5 179.4h0M515.7 183.6h0M515.9 180.6h0M516.1 182.9h0M516.3 182.3h0M516.5 181.6h0M516.7 181.2h0M516.9 181.1h0M517.1 182.9h0M517.3 181.3h0M517.5 182.5h0M517.7 181.7h0M518 182h0M518.2 181.8h0M518.4 181.1h0M518.6 187.8h0M518.8 183.3h0M519 183.1h0M519.2 181.9h0M519.4 182.3h0M519.6 182.3h0M519.9 183.9h0M520.1 182.6h0M520.3 182.5h0M520.5 183.4h0M520.7 183.3h0M520.9 183.3h0M521.1 183.8h0M521.3 182.3h0M521.6 184.7h0M521.8 182.6h0M522 182.4h0M522.2 184.7h0M522.4 182.2h0M522.6 183.5h0M522.8 182.4h0M523 185h0M523.3 184h0M523.5 184.9h0M523.7 183.4h0M523.9 182.1h0M524.1 185.2h0M524.3 184.9h0M524.5 183.4h0M524.7 183.9h0M525 183.4h0M525.2 182.3h0M525.4 183.4h0M525.6 182.7h0M525.8 184h0M526 184.2h0M526.2 185.1h0M526.4 186.2h0M526.7 185.3h0M526.9 184.3h0M527.1 183.8h0M527.3 186.2h0M527.5 182.2h0M527.7 183.1h0M527.9 183.2h0M528.1 186.7h0M528.4 183h0M528.6 185.3h0M528.8 186.9h0M529 185.4h0M530.4 177h0M530.5 177.5h0M530.5 175.8h0M530.6 176.4h0M530.7 175.8h0M530.7 177.3h0M530.8 174.8h0M530.9 175.2h0M531 175.5h0M531 175.9h0M531.1 175.1h0M531.2 175.2h0M531.2 174.3h0M531.3 173.1h0M531.4 174.2h0M531.4 175.1h0M531.5 173.7h0M531.6 173.6h0M531.7 173.4h0M531.8 173.4h0M532 173.1h0M532.2 171.6h0M532.4 174.1h0M532.6 174.8h0M532.8 172h0M533.1 172.1h0M533.3 172.7h0M533.5 172.1h0M533.7 170.2h0M533.9 174.3h0M534.1 171.3h0M534.3 173.7h0M534.5 171.8h0M534.7 171.6h0M535 168.2h0M535.2 172h0M535.4 172.3h0M535.6 173.4h0M535.8 171.9h0M536 171.7h0M536.2 167.9h0M536.4 170.5h0M536.7 172h0M536.9 172.4h0M537.1 171.3h0M537.3 171.9h0M537.5 171.8h0M537.7 171.2h0M537.9 173.4h0M538.2 171.1h0M538.4 172.9h0M538.6 173h0M538.8 171.3h0M539 173.3h0M539.2 171h0M539.4 173.6h0M539.7 171.1h0M539.9 174.1h0M540.1 173h0M540.3 171.1h0M540.5 171.9h0M540.7 172.4h0M540.9 172.8h0M541.2 172.8h0M541.4 173.2h0M541.6 173.7h0M541.8 172.7h0M542 173.6h0M542.2 173.8h0M542.4 176.8h0M542.7 174.1h0M542.9 173.1h0M543.1 174.4h0M543.3 175.6h0M543.5 175.1h0M543.7 173.9h0M543.9 175.2h0M544.1 173h0M544.3 174.9h0M544.5 175.7h0M544.7 174.4h0M544.9 176.3h0M545.2 174.8h0M545.4 175h0M545.6 173.9h0M545.8 175.1h0M546 175.4h0M546.2 175.4h0M546.4 174.2h0M546.6 175.1h0M546.8 174.8h0M547 175.4h0M547.2 174.5h0M547.4 174.4h0M547.7 177.4h0M547.9 176.3h0M548.1 173.8h0M548.3 176h0M548.5 173.9h0M548.7 174.9h0M548.9 174.6h0M549.1 174.5h0M549.3 174.8h0M549.5 174.7h0M549.7 175.7h0M549.9 176.5h0M550.1 176.9h0M550.4 172.6h0M550.6 177.3h0M550.8 175.4h0M551 174.1h0M551.2 176h0M551.4 178.7h0M551.6 177.9h0M551.8 178.1h0M552 176.1h0M552.2 178.6h0M552.4 178.8h0M552.6 178.9h0M552.8 178.2h0M553.1 176.8h0M553.3 176.5h0M553.5 176.5h0M553.7 177.1h0M553.9 177.2h0M554.1 177h0M554.3 176.8h0M554.5 175.5h0M554.7 176.9h0M554.9 176.5h0M555.1 177.9h0M555.3 178.6h0M555.5 177.7h0M555.8 178.3h0M556 178h0M556.2 177.5h0M556.4 176.5h0M556.6 177h0M556.8 177.8h0M557 176.7h0M557.2 179.3h0M557.4 178.3h0M557.6 178.8h0M557.8 178.6h0M558 178.2h0M558.2 178.6h0M558.5 179.6h0M558.7 179.6h0M558.9 178.9h0M559.1 178.8h0M559.3 179.3h0M559.5 178.2h0M559.7 179.3h0M559.9 178.4h0M560.2 179h0M560.4 180.6h0M560.6 180h0M560.8 178.8h0M561 179.2h0M561.2 180.1h0M561.4 178.8h0M561.7 179.9h0M561.9 181.5h0M562.1 180.1h0M562.3 181.1h0M562.5 180h0M562.7 181.5h0M562.9 180.1h0M563.1 180.1h0M563.4 181.3h0M563.6 179.6h0M563.8 179.9h0M564 179.9h0M564.2 180.6h0M564.4 180.2h0M564.6 182.6h0M564.9 179.3h0M565.1 181.4h0M565.3 180h0M565.5 180.9h0M565.7 182.1h0M565.9 180.3h0M566.1 178.6h0M566.4 181.7h0M566.6 182.5h0M566.8 181.2h0M567 180.7h0M567.2 180.8h0M567.4 181.9h0M567.6 181h0M567.8 179.8h0M568 181.1h0M568.2 181.7h0M568.4 181.6h0M568.6 181.8h0M568.8 182.6h0M569.1 183.6h0M569.3 180.8h0M569.5 182.7h0M569.7 181.9h0M569.9 182h0M570.1 180.5h0M570.3 183.1h0M570.5 180.3h0M570.7 181.8h0M570.9 184.5h0M571.1 182h0M571.3 183.2h0M571.5 181.7h0M571.7 181.7h0M571.9 183.4h0M572.1 183.6h0M572.3 182.6h0M572.5 182.3h0M572.8 182.9h0M573 183.4h0M573.2 182.6h0M573.4 184.6h0M573.6 182.8h0M573.8 183.1h0M574 183h0M574.2 182.6h0M574.4 184.3h0M574.6 183.3h0M574.8 184.5h0M575 184.3h0M575.2 187h0M575.4 185.1h0M575.7 186.8h0M575.9 182.6h0M576.1 184.9h0M576.3 185.3h0M576.5 183.6h0M576.7 184.9h0M576.9 184.1h0M577.1 186.4h0M577.4 184.7h0M577.6 184.9h0M577.8 187.4h0M578 185h0M578.2 184.1h0M578.4 185.6h0M578.6 184.5h0M578.9 184.1h0M579.1 185.8h0M579.3 186h0M579.5 183.8h0M579.7 186.4h0M579.9 183.8h0M580.1 185.2h0M580.4 186.6h0M580.6 186.1h0M580.8 184.4h0M581 185.4h0M581.2 185h0M581.4 184h0M581.6 186.7h0M581.9 188.3h0M582.1 185h0M582.3 184.3h0M582.5 185.5h0M582.7 186.6h0M582.9 186.9h0M583.1 185.6h0M583.4 187.5h0M583.6 185.6h0M583.8 186.9h0M584 189.4h0M584.2 187.4h0M584.4 187.1h0M584.6 187.7h0M584.8 186.9h0M585 187.4h0M585.3 186.5h0M585.5 186.3h0M585.7 186.4h0M585.9 188.2h0M586.1 186.2h0M586.3 188.2h0M586.5 190.3h0M586.7 188.8h0M586.9 187.5h0M587.2 188.6h0M587.4 189.7h0M587.6 187.9h0M587.8 189.8h0M588 186.8h0M588.2 187.3h0M588.4 189.5h0M588.6 187.1h0M588.9 190h0M589.1 188.1h0M589.3 189h0M589.5 188.3h0M589.7 187.3h0M589.9 189.3h0M590.1 188.2h0M590.3 189.4h0M590.5 187.2h0M590.8 186.1h0M591 188.6h0M591.2 188.6h0M591.4 188.5h0M591.6 189.3h0M591.8 189.1h0M592 187.1h0M592.2 187.5h0M592.4 188.4h0M592.6 189.2h0M592.8 189.2h0M593 189.8h0M593.3 187.3h0M593.5 190.7h0M593.7 189.7h0M593.9 190.5h0M594.1 191.8h0M594.3 191h0M594.5 189.9h0M594.7 190.2h0M594.9 191.9h0M595.1 190.8h0M595.3 191.5h0M595.5 190.8h0M595.7 192.6h0M595.9 193.6h0M596.1 190.6h0M596.4 190.8h0M596.6 190.6h0M596.8 190.2h0M597 193.6h0M597.2 193.2h0M597.4 190.1h0M597.6 190.6h0M597.8 192.4h0M598 191.8h0M598.2 192.9h0M598.4 191.3h0M598.6 193.7h0M598.8 190.7h0M599 192.7h0M599.2 191.9h0M599.4 192.4h0M599.7 193.1h0M599.9 192.1h0M600.1 192.2h0M600.3 192.2h0M600.4 194.7h0M600.6 191.4h0M600.8 192.7h0M601 194h0M601.2 191.8h0M601.4 191.6h0M601.6 193.3h0M601.8 191.3h0M602 190.9h0M602.2 193.3h0M602.4 192.7h0M602.6 193.9h0M602.8 192.1h0M603 193.9h0M603.2 192.6h0M603.4 192.1h0M603.6 194.6h0M603.8 195h0M604 192.8h0M604.2 193.5h0M604.4 194.1h0M604.6 194.5h0M604.8 194h0M605 193.8h0M605.2 195.8h0M605.4 194.6h0M605.6 192.9h0M605.8 193.5h0M606 194.1h0M606.2 195.8h0M606.4 196h0M606.6 194h0M606.8 196.5h0M607 195.9h0M607.2 196.5h0M607.4 196.2h0M607.6 195h0M607.8 194.9h0M608 197.2h0M608.2 195.1h0M608.4 196.5h0M608.6 197h0M608.8 196.1h0M609 197.3h0M609.3 197.4h0M609.5 198.5h0M609.7 196.8h0M609.9 196.6h0M610.1 196.8h0M610.4 195.4h0M610.6 197h0M610.8 195.9h0M611 197h0M611.2 197.6h0M611.4 197.1h0M611.7 195.7h0M611.9 198.1h0M612.1 197.1h0M612.3 196.1h0M612.5 197h0M612.7 198.7h0M613 196.8h0M613.2 196.9h0M613.4 197.7h0M613.6 197.9h0M613.8 197h0M614 195.7h0M614.3 196.8h0M614.5 196.1h0M614.7 198.8h0M614.9 198h0M615.1 197.3h0M615.4 195.3h0M615.6 196.7h0M615.8 198.4h0M616 197.9h0M616.2 197.1h0M616.4 194.1h0M616.6 197.4h0M616.8 197.1h0M617.1 198.8h0M617.3 197.7h0M617.5 198.4h0M617.7 199.4h0M617.9 197.6h0M618.1 197.1h0M618.3 197.6h0M618.5 199.1h0M618.7 200.6h0M618.9 199.6h0M619.2 198.2h0M619.4 201.2h0M619.6 198.6h0M619.8 199.6h0M620 199h0M620.2 200.5h0M620.4 198.6h0M620.6 199.6h0M620.8 200.7h0M621 199.7h0M621.2 199.9h0M621.5 200.2h0M621.7 198.3h0M621.9 200.3h0M622.1 198.9h0M622.3 199.5h0M622.5 199.4h0M622.7 199.7h0M622.9 201h0M623.1 199.7h0M623.3 201.1h0M623.6 200.1h0M623.8 199.7h0M624 199.8h0M624.2 200.4h0M624.4 200.4h0M624.6 199.5h0M624.8 200.7h0M625 200.2h0M625.2 200.6h0M625.4 200.6h0M625.6 200.6h0M625.8 199.9h0M626 203h0M626.3 202.2h0M626.5 200.6h0M626.7 200.6h0M626.9 200.7h0M627.1 202.3h0M627.3 199.9h0M627.5 202.2h0M627.7 200.7h0M627.9 201.1h0M628.1 200.2h0M628.3 202.1h0M628.5 203h0M628.7 202.4h0M629 201.2h0M629.2 199.8h0M629.4 201.5h0M629.6 202.4h0M629.8 200.5h0M630 202.2h0M630.2 201h0M630.4 200.6h0M630.6 200.6h0M630.8 203.4h0M631 201.8h0M631.2 200.8h0M631.4 201.9h0M631.7 200.2h0M631.9 200.7h0M632.1 200.9h0M632.3 202.9h0M632.5 203.8h0M632.7 201.9h0M632.9 203.9h0M633.1 202h0M633.3 204.4h0M633.5 203.9h0M633.7 203.9h0M634 203.1h0M634.2 200.9h0M634.4 203.6h0M634.6 203.2h0M634.8 204h0M635 204.7h0M635.2 204.4h0M635.4 203.8h0M635.6 204.8h0M635.8 204.3h0M636 203.7h0M636.2 205.3h0M636.5 204.1h0M636.7 203.9h0M636.9 205.9h0M637.1 204.7h0M637.3 205.3h0M637.5 203.9h0" fill="none" stroke="#000" stroke-width="2.3" stroke-linecap="round"/>
<rect x="136.2" y="4.2" width="12.7" height="481.2" fill="#2620e8" fill-opacity="0.3"/>
<rect x="148.1" y="4.2" width="12.7" height="481.2" fill="#6a1cff" fill-opacity="0.3"/>
<rect x="174.2" y="4.2" width="12.7" height="481.2" fill="#a050ff" fill-opacity="0.3"/>
<rect x="226.1" y="4.2" width="12.7" height="481.2" fill="#d050f5" fill-opacity="0.3"/>
<rect x="243.1" y="4.2" width="12.7" height="481.2" fill="#f566dd" fill-opacity="0.3"/>
<rect x="273.4" y="4.2" width="12.7" height="481.2" fill="#ff9aa8" fill-opacity="0.3"/>
<rect x="293.8" y="4.2" width="12.7" height="481.2" fill="#fcc67a" fill-opacity="0.3"/>
<rect x="323.8" y="4.2" width="12.7" height="481.2" fill="#eee83a" fill-opacity="0.3"/>
<rect x="418" y="4.2" width="12.7" height="481.2" fill="#c8e02a" fill-opacity="0.3"/>
<rect x="465.6" y="4.2" width="12.7" height="481.2" fill="#8fd420" fill-opacity="0.3"/>
<rect x="551.5" y="4.2" width="12.7" height="481.2" fill="#60c030" fill-opacity="0.3"/>
<rect x="576" y="4.2" width="12.7" height="481.2" fill="#3fa54a" fill-opacity="0.3"/>
<rect x="610.1" y="4.2" width="12.7" height="481.2" fill="#3a7a90" fill-opacity="0.3"/>
<path d="M56.2 485.4L56.3 485.4L56.4 485.4L56.5 481.9L56.6 485.4L56.7 484.2L56.8 484.3L56.9 484.8L57 485.4L57.1 485.4L57.2 485.4L57.3 485.4L57.4 485.4L57.5 485.4L57.6 485.4L57.7 485.4L57.8 485.4L57.9 483.7L58 485.4L58.1 485.4L58.2 485.4L58.3 485.4L58.4 485.4L58.5 485.4L58.6 485.4L58.7 485.4L58.8 485.4L58.9 485.4L59 484.8L59.1 485.4L59.2 485.4L59.3 485.4L59.4 485.4L59.5 485.4L59.6 485.4L59.7 485.4L59.8 485.4L59.9 485.4L60 485.4L60.1 485.4L60.2 485.4L60.3 485.4L60.4 485.4L60.5 485.4L60.6 485.4L60.7 485.4L60.8 484.5L60.9 485.4L61 485.4L61.1 485.4L61.2 484L61.3 485.4L61.4 485.4L61.5 485.4L61.6 485.4L61.7 485.4L61.8 481.6L61.9 485.4L62 485.4L62.1 485.4L62.2 485.4L62.3 485.4L62.4 485.4L62.5 483.9L62.6 485.4L62.7 485.4L62.8 485.4L62.9 485.4L63 485.4L63.1 485.4L63.2 484.3L63.3 485.4L63.4 485.4L63.5 483.8L63.6 482.8L63.7 485.4L63.8 485.4L63.9 485.4L64 482.2L64.1 485.4L64.2 485.4L64.3 485.4L64.4 485.4L64.5 485.4L64.6 485.4L64.7 485.4L64.8 485.4L64.9 485.4L65 485.4L65.1 485.4L65.2 485.4L65.3 485.4L65.4 485.4L65.5 485.4L65.6 485.4L65.7 481.3L65.8 477.8L65.9 460.6L66 479.3L66.1 482.2L66.2 485.4L66.3 485.4L66.4 485.4L66.5 483.6L66.6 485.4L66.7 485.4L66.8 475.2L66.9 461.8L67 409.1L67.1 470L67.2 475.2L67.3 484.8L67.4 485.4L67.5 485.4L67.6 485.4L67.7 484.9L67.8 485.4L67.9 485.4L68 485.4L68.1 483.7L68.2 485.4L68.3 485.4L68.4 485.4L68.5 485.4L68.6 485.4L68.7 485.4L68.8 485.4L68.9 485.4L69 485.4L69.1 485.4L69.2 483.2L69.3 485.4L69.4 485.4L69.5 485.4L69.6 485.4L69.7 483.5L69.8 485.4L69.9 485.4L70 485.4L70.1 484.2L70.2 485.4L70.3 485.4L70.4 485.4L70.5 485.4L70.6 481L70.7 472L70.8 446.3L70.9 473.2L71 479.7L71.1 485.4L71.2 485.4L71.3 485.4L71.4 485.4L71.5 485.4L71.6 485.4L71.7 485.4L71.8 485.4L71.9 483.3L72 479.7L72.1 466.7L72.2 480.5L72.3 482.5L72.4 485.4L72.5 485.4L72.6 485.4L72.7 485.4L72.8 485.4L72.9 485.4L73 485.4L73.1 485.4L73.2 482.1L73.3 485.4L73.4 485.4L73.5 485.4L73.6 485.4L73.7 485.4L73.8 485.4L73.9 485.4L74 485.4L74.1 485.4L74.2 481.6L74.3 485.4L74.4 485.4L74.5 485.4L74.6 485.4L74.7 485.3L74.8 485.4L74.9 485.4L75 485.4L75.1 485.4L75.2 485.4L75.3 485.4L75.4 485.4L75.5 485.4L75.6 485.4L75.7 485.4L75.8 485.4L75.9 485.4L76 485.4L76.1 485.4L76.2 485.4L76.3 485.4L76.4 485.4L76.5 485.4L76.6 485.4L76.7 485.4L76.8 483.5L76.9 485.4L77 485.4L77.1 485.4L77.2 485.4L77.3 485.4L77.4 485.4L77.5 485.4L77.6 485.4L77.7 485.4L77.8 485.4L77.9 485.4L78 485.4L78.1 485.4L78.2 485.4L78.3 485.4L78.4 485.4L78.5 485.4L78.6 485.4L78.7 485.4L78.8 485.4L78.9 485.4L79 485.4L79.1 485.4L79.2 485.4L79.3 484.3L79.4 485.4L79.5 483.8L79.6 485.4L79.7 485.4L79.8 485.4L79.9 485.4L80 485.4L80.1 485.4L80.2 485.4L80.3 485.4L80.4 485.4L80.5 485.4L80.6 485.4L80.7 485.4L80.8 485.4L80.9 485.4L81 485.4L81.1 485.4L81.2 485.4L81.3 485.4L81.4 485.4L81.5 485.4L81.6 485.4L81.7 485.4L81.8 485.4L81.9 485.4L82 485.4L82.1 485.4L82.2 485.4L82.3 485.4L82.4 485.4L82.5 478.9L82.6 467.5L82.7 431L82.8 469.4L82.9 476.2L83 468.5L83.1 482.8L83.2 481.5L83.3 485.4L83.4 430L83.5 471.5L83.6 453.3L83.7 383.9L83.8 429.6L83.9 468L84 428.9L84.1 430.9L84.2 441.2L84.3 352.2L84.4 445.4L84.5 420.4L84.6 444.7L84.7 434.4L84.8 485.4L84.9 485.4L85 458.5L85.1 452L85.2 319.5L85.3 437.6L85.4 460.5L85.5 476.4L85.6 484.4L85.7 449.6L85.8 471.3L85.9 453.6L86 413.1L86.1 474.2L86.2 477.3L86.3 430.5L86.4 472.4L86.5 457.9L86.6 451L86.7 482.6L86.8 438.8L86.9 419.7L87 468.1L87.1 449.8L87.2 467.2L87.3 455L87.4 371.6L87.5 445.7L87.6 469L87.7 476.2L87.8 457.8L87.9 465.4L88 447.2L88.1 462.3L88.2 475.7L88.3 485.4L88.4 452.3L88.5 481L88.6 473.3L88.7 485L88.8 426.4L88.9 438.5L89 473.3L89.1 465.6L89.2 384.9L89.3 450L89.4 417.7L89.5 417.8L89.6 426.8L89.7 452.3L89.8 435.5L89.9 475L90 452.2L90.1 456.6L90.2 435.9L90.3 458L90.4 450.6L90.5 467.5L90.6 456.4L90.7 463.5L90.8 454.1L90.9 474.3L91 482.7L91.1 455.2L91.2 480.1L91.3 475.4L91.4 466.4L91.5 399.3L91.6 463.6L91.7 447.8L91.8 457.1L91.9 465.7L92 448.9L92.1 485.4L92.2 475.4L92.3 480.1L92.4 453.3L92.5 456.4L92.6 481L92.7 440.8L92.8 399.4L92.9 218.1L93 412.5L93.1 451.6L93.2 470.6L93.3 464.1L93.4 457.6L93.5 470.3L93.6 477.6L93.7 460.3L93.8 483.6L93.9 485.4L94 484.9L94.1 480.6L94.2 464.3L94.3 474.3L94.4 481.9L94.5 485.4L94.6 485.4L94.7 485.4L94.8 484.5L94.9 482.3L95 484.9L95.1 485.4L95.2 485.4L95.3 485.4L95.4 485.4L95.5 485.4L95.6 485.4L95.7 485.4L95.8 485.4L95.9 485.4L96 485.4L96.1 485.4L96.2 485.4L96.3 485.4L96.4 477.4L96.5 465.9L96.6 415.7L96.7 469L96.8 473.4L96.9 485.4L97 485.4L97.1 485.4L97.2 485.4L97.3 485.4L97.4 485.4L97.5 485.4L97.6 485.4L97.7 485.4L97.8 485.4L97.9 485.4L98 485.4L98.1 484.7L98.2 483.3L98.3 481.6L98.4 472.9L98.5 481.4L98.6 484.2L98.7 485.4L98.8 485.4L98.9 485.4L99 483.8L99.1 485.4L99.2 485.4L99.3 485.4L99.4 485.4L99.5 483.9L99.6 485.4L99.7 467.7L99.8 485.4L99.9 460.2L100 472.8L100.1 476.5L100.2 476L100.3 485.4L100.4 464.7L100.5 485.4L100.6 475.6L100.7 485.4L100.8 458.9L100.9 472L101 477.2L101.1 450.4L101.2 478.5L101.3 469.9L101.4 484.8L101.5 464.4L101.6 485.4L101.7 470.2L101.8 463.7L101.9 467.5L102 476.4L102.1 475L102.2 485.4L102.3 461.2L102.4 440.7L102.5 346.1L102.6 437.7L102.7 470.5L102.8 470.3L102.9 476.9L103 485.4L103.1 485.4L103.2 485.4L103.3 474.5L103.4 476L103.5 472.7L103.6 476.8L103.7 485.4L103.8 483.3L103.8 485.4L103.9 483.3L104 474.7L104.1 482L104.2 476.5L104.3 479.4L104.4 480.9L104.5 485.4L104.6 481.3L104.7 477.8L104.8 478.5L104.9 485.4L105 478.7L105.1 474.2L105.2 422.8L105.3 471.4L105.4 479.6L105.5 483.8L105.6 483.2L105.7 483.1L105.8 485.4L105.9 483.7L106 485.4L106.1 485L106.2 484.6L106.3 484.6L106.4 484.2L106.5 484.5L106.6 484.8L106.7 485.4L106.8 485.2L106.9 484.8L107 485.4L107.1 485.4L107.2 485.4L107.3 485.4L107.4 485.4L107.5 485.4L107.6 485.4L107.7 485.4L107.8 485.4L107.9 485.4L108 485.4L108.1 485.4L108.2 485.4L108.3 469.2L108.4 485.4L108.5 485.4L108.6 483.9L108.7 474.1L108.8 459.5L108.9 462L109 485.4L109.1 465.1L109.2 477L109.3 448.4L109.4 467.9L109.5 480.3L109.6 477.7L109.7 470.6L109.8 467.5L109.9 471.9L110 472.6L110.1 485.4L110.2 481L110.3 472.7L110.4 468.7L110.5 476.6L110.6 463.5L110.7 485.4L110.8 472.6L110.9 480.8L111 485.4L111.1 451.4L111.2 430.1L111.3 242.3L111.4 411.6L111.5 449.5L111.6 485.4L111.7 485.4L111.8 473.1L111.9 485.4L112 475.8L112.1 481.9L112.2 481.9L112.3 485.4L112.4 476.6L112.5 485.4L112.6 485.4L112.7 482L112.8 478.2L112.9 472.5L113 482L113.1 479.7L113.2 480.1L113.3 475.3L113.4 476.5L113.5 474.7L113.6 460.2L113.7 442.2L113.8 317.5L113.9 442.4L114 466.5L114.1 479.9L114.2 482L114.3 478.1L114.4 482.6L114.5 482.6L114.6 484.4L114.7 483L114.8 479.8L114.9 483.6L115 483.6L115.1 482.9L115.2 485.4L115.3 483L115.4 482.1L115.5 485.4L115.6 482.2L115.7 480.3L115.8 465.7L115.9 479.8L116 483.4L116.1 484L116.2 483.8L116.3 485L116.4 484.6L116.5 485.3L116.6 485.1L116.7 485.2L116.8 485.2L116.9 485.4L117 485.4L117.1 485.4L117.2 482L117.3 485.4L117.4 485.4L117.5 485.4L117.6 485.4L117.7 484.5L117.8 485.4L117.9 485.4L118 485.4L118.1 485.4L118.2 485.4L118.3 485.4L118.4 485.4L118.5 485.4L118.6 485.4L118.7 485.4L118.8 484.2L118.9 485.4L119 485.4L119.1 485.4L119.2 485.4L119.3 485.4L119.4 485.4L119.5 484.4L119.6 485.4L119.7 485.4L119.8 485.4L119.9 469.5L120 453.4L120.1 388L120.2 453.8L120.3 469.9L120.4 485.4L120.5 485.4L120.6 485.4L120.7 485.4L120.8 485.4L120.9 485.4L121 485.4L121.1 485.4L121.2 485.4L121.3 485.4L121.4 485.4L121.5 485.4L121.6 485.4L121.7 485.4L121.8 485.4L121.9 485.4L122 485.4L122.1 485.4L122.2 484.8L122.3 485.4L122.4 485.4L122.5 485.4L122.6 485.4L122.7 485.4L122.8 485.4L122.9 485.4L123 484.8L123.1 484.5L123.2 481L123.3 484L123.4 484.7L123.5 485.4L123.6 485.4L123.7 485.4L123.8 484.5L123.9 485.4L124 485.4L124.1 485.4L124.2 485.4L124.3 485.4L124.4 485.4L124.5 485.4L124.6 485.4L124.7 485.4L124.8 484.2L124.9 485.4L125 485.4L125.1 485.4L125.2 485.4L125.3 485.4L125.4 484.3L125.5 485.4L125.6 465.3L125.7 462.9L125.8 369.6L125.9 465L126 471.7L126.1 485.4L126.2 485.4L126.3 485.4L126.4 485.4L126.5 485.4L126.6 485.4L126.7 485.4L126.8 485.4L126.9 485.4L127 483.8L127.1 485.4L127.2 485.4L127.3 485.4L127.4 484.6L127.5 485.4L127.5 484.8L127.6 483.9L127.7 480L127.8 484.3L127.9 484.5L128 485.4L128.1 485.4L128.2 485.4L128.3 485.4L128.4 485.4L128.5 485.4L128.6 485.4L128.7 485.4L128.8 485.4L128.9 485.4L129 485.4L129.1 485.4L129.2 482.9L129.3 485.4L129.4 485.4L129.5 484.9L129.6 485.4L129.7 485.4L129.8 485.4L129.9 485.4L130 485.4L130.1 485.4L130.2 483.2L130.3 485.4L130.4 485.4L130.5 485.4L130.6 485.4L130.7 485.4L130.8 485.4L130.9 485.4L131 485.4L131.1 485.4L131.2 485.4L131.3 485.4L131.4 485.4L131.5 485.4L131.6 485.4L131.7 485.4L131.8 485.4L131.9 485.4L132 485.4L132.1 485.4L132.2 485.4L132.3 485.4L132.4 485.4L132.5 485.4L132.6 485.4L132.7 485.4L132.8 485.4L132.9 485.4L133 485.4L133.1 485.4L133.2 485.4L133.3 485.4L133.4 485.4L133.5 485.4L133.6 485.4L133.7 485.4L133.8 477.7L133.9 463.3L134 419.3L134.1 470L134.2 477.9L134.3 485.4L134.4 485.4L134.5 485.4L134.6 485.4L134.7 485.4L134.8 485.4L134.9 485.4L135 485.4L135.1 485.4L135.2 485.4L135.3 485.4L135.4 485.4L135.5 485.4L135.6 485.4L135.7 485.4L135.8 485.4L135.9 485.4L136 485.4L136.1 484.4L136.2 485.4L136.3 485.4L136.4 485.4L136.5 485.4L136.6 485.4L136.7 485.4L136.8 484.8L136.9 485.4L137 485.4L137.1 485.4L137.2 485.4L137.3 485.4L137.4 485.4L137.5 485.4L137.6 485.4L137.7 485.4L137.8 485.4L137.9 485.4L138 485.4L138.1 485.4L138.2 485.4L138.3 485.4L138.4 485.4L138.5 485.4L138.6 485.4L138.7 485.4L138.8 485.4L138.9 483.6L139 485.4L139.1 485.4L139.2 485.4L139.3 485.4L139.4 485.4L139.5 485.4L139.6 484.1L139.7 485.4L139.8 485.4L139.9 481.7L140 485.4L140.1 485.4L140.2 485.4L140.3 485.4L140.4 485.4L140.5 485.4L140.6 485.4L140.7 485.4L140.8 485.4L140.9 485.4L141 485.4L141.1 485.4L141.2 485.4L141.3 485.4L141.4 485.4L141.5 483.6L141.6 485.4L141.7 485.4L141.8 485.4L141.9 485.4L142 485.4L142.1 485.4L142.2 477.2L142.3 467.5L142.4 462L142.5 355.7L142.6 465.9L142.7 469.1L142.8 477.3L142.9 485.4L143 485.4L143.1 485.4L143.2 485.4L143.3 485.4L143.4 485.4L143.5 484.1L143.6 485.4L143.7 483.7L143.8 485.4L143.9 485.4L144 485.4L144.1 485.4L144.2 485.4L144.3 485.4L144.4 485.4L144.5 485.4L144.6 485.4L144.7 485.4L144.8 485.4L144.9 484L145 485.4L145.1 485.4L145.2 485.4L145.3 485.4L145.4 485.4L145.5 485.4L145.6 485.4L145.7 485.4L145.8 485.4L145.9 485.4L146 485.4L146.1 485.4L146.2 485.4L146.3 484L146.4 481.4L146.5 485.4L146.6 485.4L146.7 484.2L146.8 485.4L146.9 485.4L147 485.4L147.1 485.4L147.2 485.4L147.3 485.4L147.4 485.4L147.5 483.9L147.6 480.2L147.7 470.4L147.8 481.2L147.9 483L148 485.4L148.1 485.4L148.2 485.4L148.3 484.4L148.4 485.4L148.5 485.4L148.6 485.4L148.7 485.4L148.8 485.4L148.9 485.4L149 485.4L149.1 485.4L149.2 485.4L149.3 485.4L149.4 485.4L149.5 485.4L149.6 484.7L149.7 485.4L149.8 485.4L149.9 485.4L150 485.4L150.1 485.4L150.2 485.4L150.3 485.4L150.4 485.4L150.5 485.4L150.6 485.4L150.7 485.4L150.8 485.4L150.9 485.4L151 485.4L151.1 485.4L151.2 485.4L151.3 485.4L151.4 483.4L151.5 479.5L151.6 463.7L151.7 478.8L151.8 481.6L151.9 485.4L152 485.4L152.1 485.4L152.2 485.4L152.3 483.7L152.4 485.4L152.5 485.4L152.6 485.4L152.7 485.4L152.8 485.4L152.9 485.4L153 484.9L153.1 485.4L153.2 485.4L153.3 485.4L153.4 485.4L153.5 485.4L153.6 485.4L153.7 485.4L153.8 476.4L153.9 466.2L154 457.8L154.1 350L154.2 458.5L154.3 471.6L154.4 473L154.5 485.4L154.6 485.4L154.7 485.4L154.8 485.4L154.9 485.4L155 485.4L155.1 485.4L155.2 485.4L155.3 485.4L155.4 485.4L155.5 485.4L155.6 485.4L155.7 485.4L155.8 485.4L155.9 484L156 485.4L156.1 485.4L156.2 485.4L156.3 485.4L156.4 485.4L156.5 485.4L156.6 485.4L156.7 485.4L156.8 484.2L156.9 485.4L157 485.4L157.1 483.8L157.2 484.1L157.3 485.4L157.4 485.4L157.5 485.4L157.6 485.4L157.7 485.4L157.8 485.4L157.9 485.4L158 485.4L158.1 485.4L158.2 485.4L158.3 483.6L158.4 485.4L158.5 485.4L158.6 483.7L158.7 485.4L158.8 485.4L158.9 485.4L159 485.4L159.1 485.4L159.2 485.4L159.3 485.4L159.4 484.4L159.5 485.4L159.6 485.4L159.7 485.4L159.8 485.4L159.9 485.4L160 485.4L160.1 485.4L160.2 485.4L160.3 485.4L160.4 485.4L160.5 485.4L160.6 485.4L160.7 485.4L160.8 485.4L160.9 484.5L161 485.4L161.1 485.4L161.2 483.9L161.3 483.7L161.4 476.6L161.5 483.3L161.6 483.9L161.7 485.4L161.8 485.4L161.9 485.4L162 485.4L162.1 485.4L162.2 485.4L162.3 485.4L162.4 485.4L162.5 485.4L162.6 485.4L162.7 485.4L162.8 485.4L162.9 485.4L163 485.4L163.1 485.4L163.2 485.4L163.3 480.8L163.4 485.4L163.5 484.8L163.6 485.4L163.7 485.4L163.8 485.4L163.9 484.9L164 485.4L164.1 485.4L164.2 485.4L164.3 485.4L164.4 484.1L164.5 485.4L164.6 485.4L164.7 485.4L164.8 485.4L164.9 483.7L165 485.4L165.1 485.4L165.2 485.4L165.3 485.4L165.4 485.4L165.5 483.7L165.6 485.4L165.7 485.4L165.8 485.4L165.9 485.4L166 485.4L166.1 485.4L166.2 485.4L166.3 485.4L166.4 485.4L166.5 485.4L166.6 485.4L166.7 484.4L166.8 482.9L166.9 478L167 483.8L167.1 484.7L167.2 485.4L167.3 485.4L167.4 485.4L167.5 485.4L167.6 484.3L167.7 485.4L167.8 485.4L167.9 485.4L168 485.4L168.1 485.4L168.2 485.4L168.3 471.1L168.4 466.8L168.5 401.3L168.6 462.4L168.7 475.4L168.8 485.4L168.9 485.4L169 484.2L169.1 485.4L169.2 485.4L169.3 485.4L169.4 485.4L169.5 485.4L169.6 485.4L169.7 485.4L169.8 485.4L169.9 485.4L170 485.4L170.1 485.4L170.2 485.4L170.3 485.4L170.4 485.4L170.5 481.2L170.6 485.4L170.7 485.4L170.8 485.4L170.9 485.4L171 485.4L171.1 485.4L171.2 485.4L171.3 480.9L171.4 484.6L171.5 485.4L171.6 485.4L171.7 485.4L171.8 485.4L171.9 485.4L172 485.4L172.1 485.4L172.2 485.4L172.3 485.4L172.4 485.4L172.5 485.4L172.6 485.4L172.7 485.4L172.8 485.4L172.9 485.4L173 485.4L173.1 485.4L173.2 485.4L173.3 485.4L173.4 484.3L173.5 482.7L173.6 477.4L173.7 482.7L173.8 484.1L173.9 485.4L174 485.4L174.1 485.4L174.2 485.4L174.3 485.4L174.4 485.4L174.5 485.4L174.6 485.4L174.7 485.4L174.8 485.4L174.9 485.4L175 485.4L175.1 485.4L175.2 485.4L175.3 485.4L175.4 485.4L175.5 485.4L175.6 485.4L175.7 485.4L175.8 485.4L175.9 485.4L176 485.4L176.1 485.4L176.2 485.4L176.3 485.4L176.4 485.4L176.5 485.4L176.6 484.3L176.7 485.4L176.8 485.4L176.9 485.4L177 485.4L177.1 485.4L177.2 485.4L177.3 485.4L177.4 485.4L177.5 485.4L177.6 485.4L177.7 485.4L177.8 485.4L177.9 484.2L178 481.9L178.1 474.3L178.2 483.4L178.3 484L178.4 485.4L178.5 485.4L178.6 485.4L178.7 485.4L178.8 485.4L178.9 485.4L179 485.4L179.1 485.4L179.2 485.4L179.3 485.4L179.4 485.4L179.5 485.4L179.6 485.4L179.7 485.4L179.8 485.4L179.9 485.4L180 485.4L180.1 485.4L180.2 468.6L180.3 456.5L180.4 456.2L180.5 291.6L180.6 449.5L180.7 448.6L180.8 471.3L180.9 485.4L181 484.1L181.1 485.4L181.2 485.4L181.3 485.4L181.4 485.4L181.5 485.4L181.6 485.4L181.7 485.4L181.8 485.4L181.9 485.4L182 485.4L182.1 485.4L182.2 485.4L182.3 485.4L182.4 485.4L182.5 485.4L182.6 485.4L182.7 485.4L182.8 485.4L182.9 485.4L183 485.4L183.1 485.4L183.2 484.5L183.3 485.4L183.4 484.3L183.5 485.4L183.6 485.4L183.7 485.4L183.8 485.4L183.9 485.4L184 485.4L184.1 485.4L184.2 485.4L184.3 485.4L184.4 485.4L184.5 485.4L184.6 485.4L184.7 485.4L184.8 485.4L184.9 485.4L185 485.4L185.1 485.4L185.2 485.4L185.3 485.4L185.4 485.4L185.5 485.4L185.6 485.4L185.7 485.4L185.8 485.4L185.9 485.4L186 485.4L186.1 485.4L186.2 485.4L186.3 485.4L186.4 485.4L186.5 485.4L186.6 485.4L186.7 485.4L186.8 485.4L186.9 485.4L187 485.4L187.1 483.9L187.2 485.4L187.3 485.4L187.4 485.4L187.5 485.4L187.6 485.4L187.7 485.4L187.8 485.4L187.9 485.4L188 485.4L188.1 485.4L188.2 483.7L188.3 485.4L188.4 485.4L188.5 483.9L188.6 483.4L188.7 476.4L188.8 483.2L188.9 484.2L189 485.4L189.1 485.4L189.2 485.4L189.3 485.4L189.4 485.4L189.5 485.4L189.6 485.4L189.7 485.4L189.8 485.4L189.9 485.4L190 485.4L190.1 485.4L190.2 485.4L190.3 485.4L190.4 485.4L190.5 485.4L190.6 485.4L190.7 485.4L190.8 485.4L190.9 485.4L191 485.4L191.1 485.4L191.2 485.4L191.3 485.4L191.4 485.4L191.5 485.4L191.6 485.4L191.7 485.4L191.8 485.4L191.9 484.2L192 485.4L192.1 485.4L192.2 485.4L192.3 485.4L192.4 485.4L192.5 483.7L192.6 485.4L192.7 485.4L192.8 485.4L192.9 485.4L193 485.4L193.1 485.4L193.2 485.4L193.3 481.6L193.4 485.4L193.5 484L193.6 484.6L193.7 483.2L193.8 478L193.9 483.3L194 484.7L194.1 485.4L194.2 485.4L194.3 483.9L194.4 485.4L194.5 485.4L194.6 485.4L194.7 485.4L194.8 485.4L194.9 485.4L195 485.4L195.1 485.4L195.2 485.4L195.3 485.4L195.4 485.4L195.5 485.4L195.6 485.4L195.7 485.4L195.8 485.4L195.9 485.4L196 485.4L196.1 485.4L196.2 485.4L196.3 485.4L196.4 485.4L196.5 485.4L196.6 485.4L196.7 485.4L196.8 485.4L196.9 485.4L197 485.4L197.1 479.8L197.2 479.1L197.3 452L197.4 475.5L197.5 481.5L197.6 485.4L197.7 485.4L197.8 485.4L197.9 485.4L198 485.4L198.1 485.4L198.2 485.4L198.3 485.4L198.4 485.4L198.5 485.4L198.6 485.4L198.7 485.4L198.8 485.4L198.9 485.4L199 485.4L199.1 485.4L199.2 483.8L199.3 485.4L199.4 485.4L199.5 485.4L199.6 485.4L199.7 485.4L199.8 485.4L199.9 485.4L200 485.4L200.1 485.4L200.2 485.4L200.3 485.4L200.4 485.4L200.5 485.4L200.6 484.1L200.7 484.7L200.8 485.4L200.9 485.4L201 485.4L201.1 485.4L201.2 484.4L201.3 485.4L201.4 485.4L201.5 485.4L201.6 485.4L201.7 485.4L201.8 485.4L201.9 485.4L202 485.4L202.1 485.4L202.2 484.9L202.3 485.4L202.4 485.4L202.5 485.4L202.6 481L202.7 485.4L202.8 483.9L202.9 484.4L203 480L203.1 483.5L203.2 483.8L203.3 485.4L203.4 485.4L203.5 485.4L203.6 481.7L203.7 485.4L203.8 485.4L203.9 485.4L204 485.4L204.1 485.4L204.2 485.4L204.3 484.9L204.4 485.4L204.5 485.4L204.6 482.6L204.7 485.4L204.8 485.4L204.9 485.4L205 485.4L205.1 484.4L205.2 485.4L205.3 485.4L205.4 485.4L205.5 485.4L205.6 485.4L205.7 485.4L205.8 485.4L205.9 485.4L206 485.4L206.1 485.4L206.2 485.4L206.3 485.4L206.4 485.4L206.5 485.4L206.6 485.4L206.7 483.5L206.8 485.4L206.9 485.4L207 485.4L207.1 485.4L207.2 485.4L207.3 485.4L207.4 485.4L207.5 485.4L207.6 485.4L207.7 485.4L207.8 485.4L207.9 485.4L208 485.4L208.1 485.4L208.2 485.4L208.3 485.4L208.4 484.5L208.5 485.4L208.6 485.4L208.7 476.2L208.8 462.9L208.9 413.6L209 460.6L209.1 473.3L209.2 485.4L209.3 485.4L209.4 485.4L209.5 485.4L209.6 485.4L209.7 485.4L209.8 485.4L209.9 481.9L210 485.4L210.1 485.4L210.2 485.4L210.3 485.4L210.4 485.4L210.5 485.4L210.6 485.4L210.7 485.4L210.8 485.4L210.9 485.4L211 485.4L211.1 485.4L211.2 485.4L211.3 481.1L211.4 485.4L211.5 485.4L211.6 485.4L211.7 485.4L211.8 485.4L211.9 485.4L212 485.4L212.1 485.4L212.2 485.4L212.3 485.4L212.4 485.4L212.5 485.4L212.6 485.4L212.7 485.4L212.8 485.4L212.9 485.4L213 485.4L213.1 483.5L213.2 485.4L213.3 485.4L213.4 485.4L213.5 485.4L213.6 485.4L213.7 485.4L213.8 485.4L213.9 485.4L214 484.9L214.1 485.4L214.2 485.4L214.3 485.4L214.4 481.6L214.5 479L214.6 456.9L214.7 477.8L214.8 480.5L214.9 485.4L215 485.4L215.1 485.4L215.2 485.4L215.3 484.6L215.4 485.4L215.5 483.3L215.6 485.4L215.7 485.4L215.8 485.4L215.9 485.4L216 485.4L216.1 484.1L216.2 485.4L216.3 485.4L216.4 485.4L216.5 485.4L216.6 485.4L216.7 485.4L216.8 485.4L216.9 485.4L217 485.4L217.1 485.4L217.2 485.4L217.3 485.4L217.4 485.4L217.5 484L217.6 482.8L217.7 476.4L217.8 482.5L217.9 484.3L218 485.4L218.1 483.8L218.2 485.4L218.3 485.4L218.4 485.4L218.5 484.7L218.6 485.4L218.7 485.4L218.8 485.4L218.9 485.4L219 485.4L219.1 485.4L219.2 485.4L219.3 485.4L219.4 485.4L219.5 485.4L219.6 485.4L219.7 485.4L219.8 485.4L219.9 485.4L220 485.4L220.1 483.9L220.2 485.4L220.3 483.6L220.4 485.4L220.5 485.4L220.6 485.4L220.7 485.4L220.8 485.4L220.9 485.4L221 485.4L221.1 485.4L221.2 485.4L221.3 485.4L221.4 485.4L221.5 485.4L221.6 485.4L221.7 485.4L221.8 485.4L221.9 485.4L222 485.4L222.1 483.9L222.2 485.4L222.3 485.4L222.4 485.4L222.5 485.4L222.6 485.4L222.7 485.4L222.8 485.4L222.9 485.4L223 485.4L223.1 485.4L223.2 485.4L223.3 485.4L223.4 485.4L223.5 485.4L223.6 483.6L223.7 485.4L223.8 485.4L223.9 485.4L224 485.4L224.1 485.4L224.2 485.4L224.3 485.4L224.4 485.4L224.5 485.4L224.6 485.4L224.7 484.8L224.8 484L224.9 481L225 483.9L225.1 484.7L225.2 485.4L225.3 483.8L225.4 485.4L225.5 485.4L225.6 483.7L225.7 485.4L225.8 485.4L225.9 485.4L226 485.4L226.1 485.4L226.2 485.4L226.3 485.4L226.4 485.4L226.5 485.4L226.6 485.4L226.7 485.4L226.8 483.2L226.9 485.4L227 485.4L227.1 485.4L227.2 485.4L227.3 485.4L227.4 485.4L227.5 485.4L227.6 485.4L227.7 484.9L227.8 483.9L227.9 480L228 483.9L228.1 483.7L228.2 485.4L228.3 485.4L228.4 485.4L228.5 485.4L228.6 483.6L228.7 485.4L228.8 485.4L228.9 485.4L229 485.4L229.1 485.4L229.2 485.4L229.3 485.4L229.4 485.4L229.5 485.4L229.6 484.2L229.7 485.4L229.8 485.4L229.9 485.4L230 485.4L230.1 485.4L230.2 485.4L230.3 485.4L230.4 485.4L230.5 485.4L230.6 485.4L230.7 483.7L230.8 485.4L230.9 485.4L231 485.4L231.1 485.4L231.2 485.4L231.3 483.5L231.4 485.4L231.5 485.4L231.6 485.4L231.7 485.4L231.8 485.4L231.9 484.6L232 467.9L232.1 436.5L232.2 378.1L232.3 334.3L232.4 238.3L232.5 316.2L232.6 393.2L232.7 436.7L232.8 468.5L232.9 484.5L233 485.4L233.1 485.4L233.2 485.4L233.3 485.4L233.4 485.4L233.5 485.4L233.6 485.4L233.7 485.4L233.8 485.4L233.9 485.4L234 485.4L234.1 485.4L234.2 485.4L234.3 485.4L234.4 485.4L234.5 485.4L234.6 485.4L234.7 485.4L234.8 485.4L234.9 485.4L235 485.4L235.1 485.4L235.2 485.4L235.3 485.4L235.4 485.4L235.5 485.4L235.6 485.4L235.7 485.4L235.8 485.4L235.9 484.7L236 484.2L236.1 481L236.2 484.5L236.3 484.9L236.4 485.4L236.5 485.4L236.6 485.4L236.7 485.4L236.8 484.3L236.9 485.4L237 484.7L237.1 485.4L237.2 485.4L237.3 485.4L237.4 485.4L237.5 485.4L237.6 485.4L237.7 485.4L237.8 484L237.9 485.4L238 485.4L238.1 485.4L238.2 485.4L238.3 485.4L238.4 485.4L238.5 485.4L238.6 485.4L238.7 485.4L238.8 485.4L238.9 485.4L239 485.4L239.1 485.4L239.2 485.4L239.3 485.4L239.4 485.4L239.5 485.4L239.6 485.4L239.7 485.4L239.8 485.4L239.9 485.4L240 485.4L240.1 485.4L240.2 485.4L240.3 485.4L240.4 485.4L240.5 485.4L240.6 481.9L240.7 485.4L240.8 485.4L240.9 485.4L241 485.4L241.1 485.4L241.2 485.4L241.3 485.4L241.4 485.4L241.5 485.4L241.6 485.4L241.7 485.4L241.8 485.4L241.9 485.4L242 485.4L242.1 485.4L242.2 485.4L242.3 484.4L242.4 485.4L242.5 485.4L242.6 485.4L242.7 485.4L242.8 485.4L242.9 485.4L243 485.4L243.1 485.4L243.2 485.4L243.3 483.7L243.4 485.4L243.5 484.4L243.6 485.4L243.7 485.4L243.8 485.4L243.9 485.4L244 485.4L244.1 485.4L244.2 485.4L244.3 485.4L244.4 485.4L244.5 485.4L244.6 485.4L244.7 485.4L244.8 485.4L244.9 485.4L245 485.4L245.1 485.4L245.2 485.4L245.3 485.4L245.4 485.4L245.5 485.4L245.6 485.4L245.7 485.4L245.8 485.4L245.9 483.8L246 485.4L246.1 485.4L246.2 485.4L246.3 485.4L246.4 485.4L246.5 485.4L246.6 485.4L246.7 485.4L246.8 485.4L246.9 485.4L247 485.4L247.1 485.4L247.2 485.4L247.3 485.4L247.4 485.4L247.5 485.4L247.6 485.4L247.7 485.4L247.8 485.4L247.9 485.4L248 485.4L248.1 485.4L248.2 485.4L248.3 485.4L248.4 485.4L248.5 480.8L248.6 485.4L248.7 485.4L248.8 485.4L248.9 485.4L249 485.4L249.1 476.6L249.2 464.6L249.3 447.2L249.4 327.9L249.5 445.9L249.6 459.8L249.7 472.6L249.8 485.4L249.9 485.4L250 485.4L250.1 485.4L250.2 485.4L250.3 485.4L250.4 485.4L250.5 485.4L250.6 485.4L250.7 485.4L250.8 485.4L250.9 485.4L251 485.4L251.1 485.4L251.2 485.4L251.3 485.4L251.4 485.4L251.5 485.4L251.6 485.4L251.7 485.4L251.8 485.4L251.9 485.4L252 485.4L252.1 485.4L252.2 485.4L252.3 485.4L252.4 485.4L252.5 485.4L252.6 485.4L252.7 485.4L252.8 485.4L252.9 485.4L253 485.4L253.1 485.4L253.2 485.4L253.3 485.4L253.4 485.4L253.5 485.4L253.6 485.4L253.7 485.4L253.8 485.4L253.9 485.4L254 485.4L254.1 485.4L254.2 485.4L254.3 485.4L254.4 485.4L254.5 485.4L254.6 485.4L254.7 484.3L254.8 485.4L254.9 485.4L255 485.4L255.1 484.5L255.2 485.4L255.3 485.4L255.4 485.4L255.5 485.4L255.6 485.4L255.7 485.4L255.8 485.4L255.9 485.4L256 485.4L256.1 485.4L256.2 485.4L256.3 485.4L256.4 485.4L256.5 485.4L256.6 485.4L256.7 485.4L256.8 485.4L256.9 485.4L257 485.4L257.1 485.4L257.2 485.4L257.3 485.4L257.4 484.9L257.5 485.4L257.6 485.4L257.7 485.4L257.8 485.4L257.9 485.4L258 485.4L258.1 485.4L258.2 485.4L258.3 485.4L258.4 485.4L258.5 485.4L258.6 485.4L258.7 483.6L258.8 485.4L258.9 485.4L259 485.4L259.1 485.4L259.2 485.4L259.3 483.6L259.4 485.4L259.5 485.4L259.6 485.4L259.7 485.4L259.8 485.4L259.9 485.4L260 485.4L260.1 485.4L260.2 485.4L260.3 485.4L260.4 485.4L260.5 485.4L260.6 485.4L260.7 485.4L260.8 485.4L260.9 485.4L261 485.4L261.1 485.4L261.2 485.4L261.3 485.4L261.4 485.4L261.5 485.4L261.6 485.4L261.7 485.4L261.8 485.4L261.9 485.4L262 485.4L262.1 483L262.2 481.1L262.3 468.4L262.4 482.4L262.5 483.8L262.6 485.4L262.7 485.4L262.8 485.4L262.9 484L263 485.4L263.1 485.4L263.2 478.7L263.3 463.4L263.4 462.3L263.5 361.2L263.6 455.8L263.7 466.4L263.8 477.1L263.9 485.4L264 485.4L264.1 485.4L264.2 485.4L264.3 485.4L264.4 485.4L264.5 485.4L264.6 485.4L264.7 478.3L264.8 476L264.9 438.1L265 475L265.1 477.9L265.2 485.4L265.3 485.4L265.4 485.4L265.5 485.4L265.6 485.4L265.7 485.4L265.8 485.4L265.9 485.4L266 485.4L266.1 485.4L266.2 485.4L266.3 485.4L266.4 485.4L266.5 485.4L266.6 485.4L266.7 485.4L266.8 485.4L266.9 485.4L267 483L267.1 485.4L267.2 485.4L267.3 485.4L267.4 485.4L267.5 485.4L267.6 485.4L267.7 485.4L267.8 485.4L267.9 484.5L268 485.4L268.1 485.4L268.2 483.3L268.3 481.2L268.4 472.5L268.5 482.7L268.6 484.3L268.7 485.4L268.8 485.4L268.9 485.4L269 485.4L269.1 483.9L269.2 485.4L269.3 485.4L269.4 485.4L269.5 485.4L269.6 485.4L269.7 485.4L269.8 485.4L269.9 485.4L270 485.4L270.1 485.4L270.2 485.4L270.3 485.4L270.4 485.4L270.5 484.9L270.6 485.4L270.7 485.4L270.8 485.4L270.9 485.4L271 484.5L271.1 485.4L271.2 485.4L271.3 485.4L271.4 485.4L271.5 485.4L271.6 485.4L271.7 485.4L271.8 485.4L271.9 485.4L272 483.7L272.1 485.4L272.2 485.4L272.3 483.7L272.4 485.4L272.5 484.6L272.6 485.4L272.7 480.7L272.8 476.9L272.9 455.1L273 478.2L273.1 481.5L273.2 485.4L273.3 485.4L273.4 485.4L273.5 485.4L273.6 480.7L273.7 485.4L273.8 485.4L273.9 485.4L274 485.4L274.1 485.4L274.2 485.4L274.3 485.4L274.4 483.9L274.5 485.4L274.6 485.4L274.7 485.4L274.8 485.4L274.9 485.4L275 483.9L275.1 485.4L275.2 485.4L275.3 485.4L275.4 485.4L275.5 485.4L275.6 485.4L275.7 485.4L275.8 484.4L275.9 485.4L276 485.4L276.1 485.4L276.2 485.4L276.3 485.4L276.4 485.4L276.5 485.4L276.6 485.4L276.7 485.4L276.8 485.4L276.9 485.4L277 485.4L277.1 485.4L277.2 485.4L277.3 485.4L277.4 485.4L277.5 485.4L277.6 485.4L277.7 485.4L277.8 485.4L277.9 485.4L278 485.4L278.1 485.4L278.2 485.4L278.3 485.4L278.4 485.4L278.5 485.4L278.6 485.4L278.7 485.4L278.8 485.4L278.9 484.5L279 485.4L279.1 485.4L279.2 485.4L279.3 485.4L279.4 485.4L279.5 473.5L279.6 467L279.7 459.2L279.8 313.3L279.9 438L280 453.3L280.1 469L280.2 485.4L280.3 485.4L280.4 485.4L280.5 485.4L280.6 485.4L280.7 485.4L280.8 485.4L280.9 483.6L281 485.4L281.1 485.4L281.2 485.4L281.3 485.4L281.4 485.4L281.5 485.4L281.6 485.4L281.7 483.8L281.8 485.4L281.9 485.4L282 485.4L282.1 485.4L282.2 485.4L282.3 485.4L282.4 485.4L282.5 485.4L282.6 485.4L282.7 485.4L282.8 485.4L282.9 485.4L283 485.4L283.1 485.4L283.2 485.4L283.3 485.4L283.4 485.4L283.5 485.4L283.6 485.4L283.7 484.1L283.8 485.4L283.9 485.4L284 485.4L284.1 485.4L284.2 485.4L284.3 485.4L284.4 485.4L284.5 485.4L284.6 485.4L284.7 485.4L284.8 481.5L284.9 485.4L285 485.4L285.1 485.4L285.2 483.4L285.3 485.4L285.4 485.4L285.5 485.4L285.6 483.7L285.7 485.4L285.8 485.4L285.9 485.4L286 485.4L286.1 485.4L286.2 485.4L286.3 485.4L286.4 485.4L286.5 485.4L286.6 485.4L286.7 485.4L286.8 485.4L286.9 485.4L287 485.4L287.1 485.4L287.2 485.4L287.3 485.4L287.4 485.4L287.5 482.5L287.6 485.4L287.7 485.4L287.8 485.4L287.9 485.4L288 485.4L288.1 485.4L288.2 485.4L288.3 485.4L288.4 483.9L288.5 485.4L288.6 485.4L288.7 485.4L288.8 485.4L288.9 485.4L289 485.4L289.1 471L289.2 459.3L289.3 430L289.4 462L289.5 472.4L289.6 442.1L289.7 419.9L289.8 322L289.9 416.1L290 429.8L290.1 404.8L290.2 382.8L290.3 360.3L290.4 316.3L290.5 257.7L290.6 328.1L290.7 350L290.8 381.9L290.9 405.4L291 429L291.1 450.9L291.2 468.4L291.3 459.9L291.4 428.8L291.5 385.4L291.6 446.1L291.7 457.7L291.8 478.1L291.9 470.5L292 440L292.1 467.5L292.2 477.8L292.3 485.4L292.4 485.4L292.5 485.4L292.6 485.4L292.7 485.4L292.8 485.4L292.9 485.4L293 485.4L293.1 485.4L293.2 485.4L293.3 485.4L293.4 485.4L293.5 485.4L293.6 485.4L293.7 485.4L293.8 485.4L293.8 484.6L293.9 485.4L294 484.1L294.1 485.4L294.2 485.4L294.3 485.4L294.4 485.4L294.5 485.4L294.6 485.4L294.7 485.4L294.8 485.4L294.9 485.4L295 485.4L295.1 485.4L295.2 485.4L295.3 485.4L295.4 485.4L295.5 485.4L295.6 485.4L295.7 485.4L295.8 485.4L295.9 485.4L296 485.4L296.1 485.4L296.2 484L296.3 485.4L296.4 485.4L296.5 485.4L296.6 485.4L296.7 485.4L296.8 485.4L296.9 485.4L297 485.4L297.1 485.4L297.2 485.4L297.3 485.4L297.4 485.4L297.5 484.8L297.6 485.4L297.7 485.4L297.8 485.4L297.9 485.4L298 485.4L298.1 485.4L298.2 485.4L298.3 485.4L298.4 485.4L298.5 485.4L298.6 485.4L298.7 485.4L298.8 484.4L298.9 485.4L299 485.4L299.1 485.4L299.2 485.4L299.3 484.7L299.4 485.4L299.5 485.4L299.6 485.4L299.7 485.4L299.8 475.6L299.9 453.3L300 453.5L300.1 303.7L300.2 448.7L300.3 463.6L300.4 468.5L300.5 485.4L300.6 485.4L300.7 484.7L300.8 485.4L300.9 485.4L301 485.4L301.1 485.4L301.2 485.4L301.3 484.1L301.4 483.7L301.5 477.7L301.6 483.3L301.7 484.1L301.8 485.4L301.9 485.4L302 485.4L302.1 485.4L302.2 485.4L302.3 485.4L302.4 485.4L302.5 485.4L302.6 485.4L302.7 484.1L302.8 485.4L302.9 485.4L303 485.4L303.1 485.4L303.2 485.4L303.3 485.4L303.4 485.4L303.5 485.4L303.6 485.4L303.7 485.4L303.8 485.4L303.9 485.4L304 485.4L304.1 485.4L304.2 485.4L304.3 485.4L304.4 485.4L304.5 485.4L304.6 485.4L304.7 484.4L304.8 485.4L304.9 485.4L305 485.4L305.1 485.4L305.2 485.4L305.3 485.4L305.4 485.4L305.5 485.4L305.6 483.7L305.7 485.4L305.8 485.4L305.9 485.4L306 485.4L306.1 485.4L306.2 484.5L306.3 484.6L306.4 481L306.5 484.1L306.6 485L306.7 485.4L306.8 485.4L306.9 485.4L307 483L307.1 485.4L307.2 485.4L307.3 485.4L307.4 485.4L307.5 485.4L307.6 485.4L307.7 484.2L307.8 485.4L307.9 485.4L308 485.4L308.1 484.7L308.2 485.4L308.3 485.4L308.4 485.4L308.5 485.4L308.6 485.4L308.7 485.4L308.8 485.4L308.9 485.4L309 485.4L309.1 485.4L309.2 485.4L309.3 485.4L309.4 481.1L309.5 485.4L309.6 485.4L309.7 485.4L309.8 485.4L309.9 485.4L310 485.4L310.1 485.4L310.2 485.4L310.3 485.4L310.4 485.4L310.5 485.4L310.6 485.4L310.7 485.4L310.8 485.4L310.9 485.4L311 484.3L311.1 484L311.2 485.4L311.3 485.4L311.4 485.4L311.5 485.4L311.6 485.4L311.7 483.6L311.8 485.4L311.9 485.4L312 484L312.1 485.4L312.2 485.4L312.3 485.4L312.4 485.4L312.5 485.4L312.6 485.4L312.7 481.1L312.8 485.4L312.9 485.4L313 485.4L313.1 485.4L313.2 485.4L313.3 485.4L313.4 485.4L313.5 485.4L313.6 485.4L313.7 485.4L313.8 485.4L313.9 485.4L314 484L314.1 482.2L314.2 472.5L314.3 480.9L314.4 483.9L314.5 485.4L314.6 485.4L314.7 485.4L314.8 484.2L314.9 485.4L315 485.4L315.1 485.4L315.2 485.4L315.3 485.4L315.4 485.4L315.5 483.4L315.6 485.4L315.7 484.2L315.8 485.4L315.9 485.4L316 485.4L316.1 485.4L316.2 485.4L316.3 485.4L316.4 485.4L316.5 485.4L316.6 485.4L316.7 483.8L316.8 485.4L316.9 485.4L317 485.4L317.1 485.4L317.2 485.4L317.3 485.4L317.4 485.4L317.5 485.4L317.6 485.4L317.7 485.4L317.8 484L317.9 485.4L318 485.4L318.1 484.1L318.2 485.4L318.3 485.4L318.4 485.4L318.5 485.4L318.6 485.4L318.7 485.4L318.8 485.4L318.9 485.4L319 485.4L319.1 485.4L319.2 485.4L319.3 476.6L319.4 465.7L319.5 409.1L319.6 469.9L319.7 476L319.8 485.4L319.9 485.4L320 485.4L320.1 485.4L320.2 485.4L320.3 485.4L320.4 485.4L320.5 485.4L320.6 485.4L320.7 485.4L320.8 485.4L320.9 485.4L321 485.4L321.1 485.4L321.2 485.4L321.3 485.4L321.4 485.4L321.5 485.4L321.6 485.4L321.7 485.4L321.8 485.4L321.9 485.4L322 485.4L322.1 485.4L322.2 485.4L322.3 484.8L322.4 485.4L322.5 483.6L322.6 485.4L322.7 485.4L322.8 485.4L322.9 485.4L323 485.4L323.1 485.4L323.2 485.4L323.3 485.4L323.4 485.4L323.5 485.4L323.6 485.4L323.7 484.6L323.8 483.5L323.9 482.4L324 472.5L324.1 481.3L324.2 484.1L324.3 485.4L324.4 483.5L324.5 485.4L324.6 485.4L324.7 485.4L324.8 485.4L324.9 485.4L325 485.4L325.1 485.4L325.2 485.4L325.3 485.4L325.4 485.4L325.5 485.4L325.6 485.4L325.7 485.4L325.8 485.4L325.9 485.4L326 485.4L326.1 485.4L326.2 485.4L326.3 485.4L326.4 485.4L326.5 485.4L326.6 485.4L326.7 485.4L326.8 484.9L326.9 485.4L327 485.4L327.1 485.4L327.2 485.4L327.3 483.9L327.4 485.4L327.5 485.4L327.6 483.4L327.7 479.5L327.8 464.7L327.9 480.1L328 481.9L328.1 485.4L328.2 485.4L328.3 485.4L328.4 485.4L328.5 485.4L328.6 485.4L328.7 485.4L328.8 480L328.9 468.5L329 430L329.1 469.2L329.2 478.8L329.3 485.4L329.4 485.4L329.5 485.4L329.6 485.4L329.7 485.4L329.8 484.8L329.9 469.7L330 432.9L330.1 392.1L330.2 320.1L330.3 392L330.4 439L330.5 453.1L330.6 395L330.7 438.1L330.8 469.5L330.9 485.4L331 485.4L331.1 485.4L331.2 485.4L331.3 485.4L331.4 485.4L331.5 485.4L331.6 485.4L331.7 485.4L331.8 485.4L331.9 485.4L332 485.4L332.1 485.4L332.2 485.4L332.3 485.4L332.4 485.4L332.5 485.4L332.6 485.4L332.7 485.4L332.8 485.4L332.9 485.4L333 485.4L333.1 485.4L333.2 485.4L333.3 485.4L333.4 485.4L333.5 485.4L333.6 485.4L333.7 485.4L333.8 485.4L333.9 483.6L334 480.2L334.1 466.8L334.2 479.7L334.3 483L334.4 485.4L334.5 485.4L334.6 485.4L334.7 484.4L334.8 485.4L334.9 485.4L335 485.4L335.1 485.4L335.2 485.4L335.3 485.4L335.4 485.4L335.5 485.4L335.6 485.4L335.7 485.4L335.8 482.3L335.9 485.4L336 485.4L336.1 485.4L336.2 485.4L336.3 485.4L336.4 485.4L336.5 485.4L336.6 485.4L336.7 485.4L336.8 485.4L336.9 485.4L337 485.4L337.1 485.4L337.2 485.4L337.3 484.6L337.4 485.4L337.5 484.7L337.6 485.4L337.7 485.4L337.8 485.4L337.9 485.4L338 485.4L338.1 485.4L338.2 485.4L338.3 485.4L338.4 485.4L338.5 485.4L338.6 485.4L338.7 485.4L338.8 485.4L338.9 484.3L339 485.4L339.1 485.4L339.2 485.4L339.3 485.4L339.4 485.4L339.5 485.4L339.6 485.4L339.7 485.4L339.8 485.4L339.9 485.4L340 485.4L340.1 485.4L340.2 485.4L340.3 485.4L340.4 485.4L340.5 485.4L340.6 481.3L340.7 485.4L340.8 485.4L340.9 485.4L341 485.4L341.1 485.4L341.2 484.1L341.3 485.4L341.4 485.4L341.5 485.4L341.6 485.4L341.7 485.4L341.8 485.4L341.9 485.4L342 485.4L342.1 485.4L342.2 485.4L342.3 485.4L342.4 485.4L342.5 483.9L342.6 485.4L342.7 485.4L342.8 485.4L342.9 485.4L343 485.4L343.1 481.1L343.2 485.4L343.3 481.3L343.4 485.4L343.5 483.9L343.6 485.4L343.7 485.4L343.8 483.9L343.9 485.4L344 485.4L344.1 485.4L344.2 485.4L344.3 485.4L344.4 485.4L344.5 485.4L344.6 485.4L344.7 483.5L344.8 485.4L344.9 485.4L345 485.4L345.1 485.4L345.2 485.4L345.3 485.4L345.4 485.4L345.5 485.4L345.6 484.5L345.7 485.4L345.8 485.4L345.9 485.4L346 485.4L346.1 485.4L346.2 478.8L346.3 470.2L346.4 434L346.5 470.9L346.6 479L346.7 485.4L346.8 485.4L346.9 485.4L347 485.4L347.1 485.4L347.2 484.5L347.3 485.4L347.4 482L347.5 476.9L347.6 452.4L347.7 476.4L347.8 479.9L347.9 485.4L348 485.4L348.1 485.4L348.2 485.4L348.3 485.4L348.4 485.4L348.5 485.4L348.6 485.4L348.7 484.3L348.8 485.4L348.9 483.7L349 481.8L349.1 485.4L349.2 485.4L349.3 485.4L349.4 485.4L349.5 485.4L349.6 485.4L349.7 485.4L349.8 485.4L349.9 485.4L350 485.4L350.1 485.4L350.2 485.4L350.3 485.4L350.4 485.4L350.5 485.4L350.6 485.4L350.7 485.4L350.8 485.4L350.9 485.4L351 485.4L351.1 485.4L351.2 485.4L351.3 485.4L351.4 483.9L351.5 483.7L351.6 485.4L351.7 485.4L351.8 485.4L351.9 485.4L352 485.4L352.1 485.4L352.2 485.4L352.3 485.4L352.4 485.4L352.5 485.4L352.6 485.4L352.7 485.4L352.8 485.4L352.9 484.4L353 485.4L353.1 485.4L353.2 485.4L353.3 485.4L353.4 485.4L353.5 484.5L353.6 483.9L353.7 480L353.8 484.1L353.9 484.8L354 485.4L354.1 485.4L354.2 485.4L354.3 485.4L354.4 485.4L354.5 485.4L354.6 485.4L354.7 485.4L354.8 485.4L354.9 485.4L355 485.4L355.1 485.4L355.2 485.4L355.3 485.4L355.4 485.4L355.5 483.1L355.6 485.4L355.7 485.4L355.8 485.4L355.9 485.4L356 485.4L356.1 484.1L356.2 485.4L356.3 485.4L356.4 485.4L356.5 485.4L356.6 484.4L356.7 485.4L356.8 485.4L356.9 485.4L357 485.4L357.1 485.4L357.2 485.4L357.3 484.1L357.4 485.4L357.5 485.4L357.6 485.4L357.7 485.4L357.8 485.4L357.9 484.2L358 485.4L358.1 485.4L358.2 485.4L358.3 485.4L358.4 485.4L358.5 485.4L358.6 485.4L358.7 485.4L358.8 485.4L358.9 485.4L359 485.4L359.1 485.4L359.2 485.4L359.3 485.4L359.4 485.4L359.5 485.4L359.6 485.4L359.7 485.4L359.8 485.4L359.9 485.4L360 485.4L360.1 485.4L360.2 485.4L360.3 485.4L360.4 485.4L360.5 485.4L360.6 485.4L360.7 485.4L360.8 485.4L360.9 485.4L361 485.4L361.1 485.4L361.2 485.4L361.3 485.4L361.4 483.6L361.5 485.4L361.6 485.4L361.7 485.4L361.8 485.4L361.9 485.4L362 485.4L362.1 485.4L362.2 485.4L362.3 484.4L362.4 485.4L362.5 485.4L362.6 485.4L362.7 481.8L362.8 485.4L362.9 485.4L363 485.4L363.1 485.4L363.2 484.6L363.3 485.4L363.4 485.4L363.5 484L363.6 485.4L363.7 485.4L363.8 485.4L363.9 485.4L364 485.4L364.1 485.4L364.2 483.6L364.3 485.4L364.4 485.4L364.5 482.8L364.6 475.6L364.7 464.5L364.8 416.7L364.9 470.4L365 475.2L365 485.4L365.1 485.4L365.2 485.4L365.3 485.4L365.4 485.4L365.5 485.4L365.6 485.4L365.7 485.4L365.8 485.4L365.9 485.4L366 485.4L366.1 485.4L366.2 485.4L366.3 485.4L366.4 485.4L366.5 485.4L366.6 485.4L366.7 485.4L366.8 485.4L366.9 485.4L367 485.4L367.1 485.4L367.2 485.4L367.3 485.4L367.4 485.4L367.5 485.4L367.6 485.4L367.7 485.4L367.8 485.4L367.9 485.4L368 485.4L368.1 485.4L368.2 485.4L368.3 485.4L368.4 485.4L368.5 485.4L368.6 485.4L368.7 485.4L368.8 485.4L368.9 485.4L369 485.4L369.1 485.4L369.2 485.4L369.3 485.4L369.4 485.4L369.5 485.4L369.6 485.4L369.7 485.4L369.8 485.4L369.9 485.4L370 485.4L370.1 485.4L370.2 485.4L370.3 485.4L370.4 485.4L370.5 485.4L370.6 485.4L370.7 485.4L370.8 485.4L370.9 481.6L371 485.4L371.1 485.4L371.2 485.4L371.3 485.4L371.4 485.4L371.5 484.2L371.6 484.8L371.7 485.4L371.8 485.4L371.9 485.4L372 485.4L372.1 485.4L372.2 485.4L372.3 485.4L372.4 485.4L372.5 485.4L372.6 485.4L372.7 482.7L372.8 485.4L372.9 485.4L373 485.4L373.1 485.4L373.2 485.4L373.3 485.4L373.4 483.7L373.5 485.4L373.6 485.4L373.7 485.4L373.8 485.4L373.9 485.4L374 485.4L374.1 485.4L374.2 485.4L374.3 485.4L374.4 485.4L374.5 485.4L374.6 485.4L374.7 485.4L374.8 485.4L374.9 485.4L375 485.4L375.1 485.4L375.2 484.7L375.3 485.4L375.4 485.4L375.5 485.4L375.6 485.4L375.7 485.4L375.8 485.4L375.9 485.4L376 485.4L376.1 485.4L376.2 485.4L376.3 485.4L376.4 485.4L376.5 485.4L376.6 481.7L376.7 485.4L376.8 485.4L376.9 485.4L377 485.4L377.1 485.4L377.2 485.4L377.3 485.4L377.4 485.4L377.5 485.4L377.6 485.4L377.7 485.4L377.8 485.4L377.9 483.7L378 485.4L378.1 485.4L378.2 485.4L378.3 485.4L378.4 485.4L378.5 485.4L378.6 485.4L378.7 484.4L378.8 485.4L378.9 485.4L379 485.4L379.1 485.4L379.2 485.4L379.3 485.4L379.4 484.4L379.5 485.4L379.6 485.4L379.7 485.4L379.8 485.4L379.9 485.4L380 470.4L380.1 459.4L380.2 441.9L380.3 316.3L380.4 443.8L380.5 452.3L380.6 468.7L380.7 485.4L380.8 485.4L380.9 476.1L381 472.4L381.1 432L381.2 467.3L381.3 478.7L381.4 485.4L381.5 485.4L381.6 485.4L381.7 485.4L381.8 485.4L381.9 485.4L382 485.4L382.1 485.4L382.2 485.4L382.3 484.5L382.4 485.4L382.5 485.4L382.6 485.4L382.7 485.4L382.8 485.4L382.9 485.4L383 485.4L383.1 485.4L383.2 485.4L383.3 485.4L383.4 485.4L383.5 485.4L383.6 485.4L383.7 485.4L383.8 485.4L383.9 485.4L384 485.4L384.1 485.4L384.2 485.4L384.3 485.4L384.4 485.4L384.5 485.4L384.6 485.4L384.7 485.4L384.8 485.4L384.9 485.4L385 485.4L385.1 485.4L385.2 485.4L385.3 485.4L385.4 485.4L385.5 485.4L385.6 485.4L385.7 485.4L385.8 485.4L385.9 485.4L386 483.7L386.1 485.4L386.2 485.4L386.3 485.4L386.4 485.4L386.5 485.4L386.6 484.1L386.7 485.4L386.8 485.4L386.9 485.4L387 485.4L387.1 485.4L387.2 485.4L387.3 485.4L387.4 485.4L387.5 485.4L387.6 485.4L387.7 485.4L387.8 485.4L387.9 485.4L388 485.4L388.1 485.4L388.2 485.4L388.3 485.4L388.4 485.4L388.5 485.4L388.6 485.4L388.7 485.4L388.8 485.4L388.9 485.4L389 485.4L389.1 485.4L389.2 484.3L389.3 485.4L389.4 485.4L389.5 485.4L389.6 485.4L389.7 485.4L389.8 485.4L389.9 485.4L390 485.4L390.1 485.4L390.2 485.4L390.3 485.4L390.4 485.4L390.5 485.4L390.6 476.8L390.7 473.5L390.8 462.4L390.9 387.6L391 464.3L391.1 473.4L391.2 476.7L391.3 485.4L391.4 485.4L391.5 485.4L391.6 485.4L391.7 485.4L391.8 484L391.9 485.4L392 485.4L392.1 485.4L392.2 485.4L392.3 485.4L392.4 485.4L392.5 485.4L392.6 485.4L392.7 485.4L392.8 485.4L392.9 481.1L393 485.4L393.1 484L393.2 485.4L393.3 485.4L393.4 484.3L393.5 485.4L393.6 485.4L393.7 483.7L393.8 485.4L393.9 485.4L394 485.4L394.1 485.4L394.2 485.4L394.3 485.4L394.4 485.4L394.5 485.4L394.6 485.4L394.7 485.4L394.8 485.4L394.9 485.4L395 483.8L395.1 484.2L395.2 485.4L395.3 484L395.4 485.4L395.5 485.4L395.6 485.4L395.7 485.4L395.8 485.4L395.9 485.4L396 485.4L396.1 485.4L396.2 485.4L396.3 485.4L396.4 485.4L396.5 485.4L396.6 482.1L396.7 485.4L396.8 485.4L396.9 485.4L397 485.4L397.1 485.4L397.2 485.4L397.3 485.4L397.4 485.4L397.5 485.4L397.6 485.4L397.7 485.4L397.8 485.4L397.9 485.4L398 485.4L398.1 485.4L398.2 485.4L398.3 485.4L398.4 485.4L398.5 485.4L398.6 485.4L398.7 485.4L398.8 485.4L398.9 485.4L399 485.4L399.1 485.4L399.2 484.6L399.3 483.7L399.4 485.4L399.5 485.4L399.6 485.4L399.7 485.4L399.8 485.4L399.9 485.4L400 485.4L400.1 485.4L400.2 484.7L400.3 485.4L400.4 485.4L400.5 485.4L400.6 485.4L400.7 485.4L400.8 485.4L400.9 485.4L401 485.4L401.1 485.4L401.2 485.4L401.3 485.4L401.4 485.4L401.5 485.4L401.6 485.4L401.7 485.4L401.8 485.4L401.9 485.4L402 485.4L402.1 485.4L402.2 485.4L402.3 483.6L402.4 485.4L402.5 485.4L402.6 485.4L402.7 485.4L402.8 485.4L402.9 485.4L403 485.4L403.1 485.4L403.2 485.4L403.3 484.6L403.4 485.4L403.5 485.4L403.6 483.7L403.7 485.4L403.8 485.4L403.9 483.6L404 485.4L404.1 482.5L404.2 485.4L404.3 485.4L404.4 485.4L404.5 485.4L404.6 485.4L404.7 485.4L404.8 485.4L404.9 485.4L405 485.4L405.1 485.4L405.2 482.7L405.3 479.3L405.4 466.8L405.5 481.5L405.6 483.2L405.7 485.4L405.8 485.4L405.9 483.9L406 484.2L406.1 485.4L406.2 485.4L406.3 485.4L406.4 485.4L406.5 485.4L406.6 485.4L406.7 485.4L406.8 485.4L406.9 485.4L407 485.4L407.1 484.6L407.2 485.4L407.3 485.4L407.4 485.4L407.5 485.4L407.6 485.4L407.7 485.4L407.8 485.4L407.9 484.8L408 485.4L408.1 485.4L408.2 484.8L408.3 485.4L408.4 485.4L408.5 485.4L408.6 485.4L408.7 485.4L408.8 485.4L408.9 485.4L409 485.4L409.1 485.4L409.2 483.8L409.3 485.4L409.4 485.4L409.5 485.4L409.6 485.4L409.7 485.4L409.8 485.4L409.9 485.4L410 485.4L410.1 485.4L410.2 485.4L410.3 485.4L410.4 483.7L410.5 485.4L410.6 485.4L410.7 485.4L410.8 485.4L410.9 485.4L411 485.4L411.1 483.3L411.2 485.4L411.3 485.4L411.4 485.4L411.5 483.8L411.6 483.7L411.7 485.4L411.8 485.4L411.9 485.4L412 485.4L412.1 485.4L412.2 485.4L412.3 485.4L412.4 485.4L412.5 485.4L412.6 485.4L412.7 485.4L412.8 478.6L412.9 478.1L413 446.3L413.1 476.5L413.2 480.3L413.3 485.4L413.4 485.4L413.5 485.4L413.6 485.4L413.7 485.4L413.8 484.8L413.9 485.4L414 485.4L414.1 485.4L414.2 485.4L414.3 485.4L414.4 485.4L414.5 485.4L414.6 485.4L414.7 485.4L414.8 485.4L414.9 485.4L415 485.4L415.1 485.4L415.2 485.4L415.3 483.9L415.4 474.8L415.5 465.5L415.6 415.7L415.7 461.9L415.8 475.2L415.9 485.4L416 485.4L416.1 485.4L416.2 485.4L416.3 485.4L416.4 485.4L416.5 485.4L416.6 485.4L416.7 485.4L416.8 485.4L416.9 485.4L417 485.4L417.1 485.4L417.2 485.4L417.3 485.4L417.4 485.4L417.5 485.4L417.6 485.4L417.7 484.6L417.8 485.4L417.9 485.4L418 485.4L418.1 485.4L418.2 485.4L418.3 485.4L418.4 485.4L418.5 485.4L418.6 485.4L418.7 485.4L418.8 485.4L418.9 485.4L419 485.4L419.1 485.4L419.2 485.4L419.3 485.4L419.4 485.4L419.5 485.4L419.6 485.4L419.7 485.4L419.8 485.4L419.9 485.4L420 485.4L420.1 485.4L420.2 482.9L420.3 485.4L420.4 485.4L420.5 484.5L420.6 485.4L420.7 485.4L420.8 485.4L420.9 485.4L421 485.4L421.1 485.4L421.2 485.4L421.3 485.4L421.4 485.4L421.5 485.4L421.6 483.9L421.7 485.4L421.8 485.4L421.9 485.4L422 485.4L422.1 485.4L422.2 485.4L422.3 485.4L422.4 485.4L422.5 485.4L422.6 484.8L422.7 484.4L422.8 485.4L422.9 485.4L423 485.4L423.1 485.4L423.2 485.4L423.3 485.4L423.4 485.4L423.5 485.4L423.6 485.4L423.7 485.4L423.8 485.4L423.9 485.4L424 485.4L424.1 476.1L424.2 471.6L424.3 462.2L424.4 373.7L424.5 467L424.6 465.3L424.7 452.2L424.8 400L424.9 448.9L425 460.6L425.1 485.4L425.2 484.6L425.3 485.4L425.4 485.4L425.5 480.7L425.6 475.4L425.7 432L425.8 475.7L425.9 478.7L426 485.4L426.1 485.4L426.2 485.4L426.3 485.4L426.4 485.4L426.5 485.4L426.6 484.9L426.7 485.4L426.8 485.4L426.9 485.4L427 485.4L427.1 485.4L427.2 485.4L427.3 485.4L427.4 485.4L427.5 485.4L427.6 485.4L427.7 485.4L427.8 485.4L427.9 485.4L428 485.4L428.1 485.4L428.2 485.4L428.3 485.4L428.4 485.4L428.5 485.4L428.6 485.4L428.7 485.4L428.8 485.4L428.9 485.4L429 485.4L429.1 484L429.2 485.4L429.3 485.4L429.4 484.3L429.5 485.4L429.6 485.4L429.7 485.4L429.8 485.4L429.9 485.4L430 485.4L430.1 485.4L430.2 485.4L430.3 485.4L430.4 485.4L430.5 484.4L430.6 485.4L430.7 485.4L430.8 485.4L430.9 482.8L431 485.4L431.1 485.4L431.2 485.4L431.3 485.4L431.4 485.4L431.5 485.4L431.6 485.4L431.7 485.4L431.8 485.4L431.9 485.4L432 485.4L432.1 485.4L432.2 482.7L432.3 485.4L432.4 485.4L432.5 485.4L432.6 482.2L432.7 485.4L432.8 485.4L432.9 485.4L433 485.4L433.1 485.4L433.2 485.4L433.3 485.4L433.4 485.4L433.5 484L433.6 485.4L433.7 484.2L433.8 485.4L433.9 485.4L434 485.4L434.1 485.4L434.2 485.4L434.3 485.4L434.4 485.4L434.5 485.4L434.6 485.4L434.7 485.4L434.8 485.4L434.9 485.4L435 485.4L435.1 485.4L435.2 485.4L435.3 485.4L435.4 485.4L435.5 482.8L435.6 484.3L435.7 485.4L435.8 485.4L435.9 485.4L436 485.4L436.1 485.4L436.2 485.4L436.3 485.4L436.3 483.5L436.4 485.4L436.5 485.4L436.6 485.4L436.7 485.4L436.8 485.4L436.9 485.4L437 485.4L437.1 485.4L437.2 485.4L437.3 485.4L437.4 485.4L437.5 485.4L437.6 485.4L437.7 485.4L437.8 485.4L437.9 485.4L438 485.4L438.1 485.4L438.2 484.4L438.3 485.4L438.4 485.4L438.5 484L438.6 485.4L438.7 485.4L438.8 485.4L438.9 485.4L439 485.4L439.1 485.4L439.2 485.4L439.3 485.4L439.4 485.4L439.5 485.4L439.6 485.4L439.7 485.4L439.8 485.4L439.9 484.6L440 485.4L440.1 485.4L440.2 485.4L440.3 485.4L440.4 485.4L440.5 485.4L440.6 485.4L440.7 485.4L440.8 485.4L440.9 485.4L441 485.4L441.1 483.6L441.2 485.4L441.3 484.5L441.4 485.4L441.5 485.4L441.6 485.4L441.7 485.4L441.8 485.4L441.9 485.4L442 485.4L442.1 485.4L442.2 485.4L442.3 485.4L442.4 485.4L442.5 485.4L442.6 485.4L442.7 485.4L442.8 485.4L442.9 485.4L443 485.4L443.1 480.9L443.2 485.4L443.3 485.4L443.4 485.4L443.5 485.4L443.6 485.4L443.7 485.4L443.8 485.4L443.9 485.4L444 481.3L444.1 485.4L444.2 485.4L444.3 485.4L444.4 485.4L444.5 478.4L444.6 464.5L444.7 407.1L444.8 463L444.9 477.2L445 485.4L445.1 485.4L445.2 485.4L445.3 485.4L445.4 485.4L445.5 485.4L445.6 485.4L445.7 485.4L445.8 485.4L445.9 485.4L446 485.4L446.1 478L446.2 474.1L446.3 439.8L446.4 469.8L446.5 480L446.6 485.4L446.7 485.4L446.8 484.7L446.9 485.4L447 485.4L447.1 481.8L447.2 485.4L447.3 479.4L447.4 474L447.5 443.2L447.6 476.1L447.7 478.8L447.8 485.4L447.9 483.9L448 485.4L448.1 485.4L448.2 485.4L448.3 485.4L448.4 485.4L448.5 485.4L448.6 485.4L448.7 485.4L448.8 485.4L448.9 485.4L449 485.4L449.1 485.4L449.2 485.4L449.3 485.4L449.4 485.4L449.5 485.4L449.6 485.4L449.7 485.4L449.8 485.4L449.9 484.1L450 478.9L450.1 469.1L450.2 411L450.3 468.2L450.4 473.1L450.5 484.6L450.6 485.4L450.7 485.4L450.8 485.4L450.9 484.8L451 485.4L451.1 485.4L451.2 485.4L451.3 485.4L451.4 485.4L451.5 485.4L451.6 485.4L451.7 485.4L451.8 485.4L451.9 484.8L452 485.4L452.1 485.4L452.2 485.4L452.3 485.4L452.4 485.4L452.5 485.4L452.6 485.4L452.7 485.4L452.8 485.4L452.9 485.4L453 485.4L453.1 485.4L453.2 484.7L453.3 485.4L453.4 485.4L453.5 485.4L453.6 485.4L453.7 485.4L453.8 485.4L453.9 485.4L454 485.4L454.1 485.4L454.2 485.4L454.3 485.4L454.4 485.4L454.5 485.4L454.6 485.4L454.7 485.4L454.8 485.4L454.9 485.4L455 485.4L455.1 485.4L455.2 485.4L455.3 485.4L455.4 485.4L455.5 485.4L455.6 485.4L455.7 485.4L455.8 485.4L455.9 483.9L456 485.4L456.1 485.4L456.2 485.4L456.3 485.4L456.4 485.4L456.5 485.4L456.6 485.4L456.7 485.4L456.8 485.4L456.9 485.4L457 485.4L457.1 485.4L457.2 485.4L457.3 485.4L457.4 485.4L457.5 485.4L457.6 485.4L457.7 485.4L457.8 485.4L457.9 485.4L458 484L458.1 473.6L458.2 469.1L458.3 395.4L458.4 464.9L458.5 472.7L458.6 485.4L458.7 485.4L458.8 485.4L458.9 485.4L459 485.4L459.1 485.4L459.2 485.4L459.3 485.4L459.4 485.4L459.5 485.4L459.6 482.4L459.7 485.4L459.8 485.4L459.9 485.4L460 485.4L460.1 485.4L460.2 485.4L460.3 485.4L460.4 485.4L460.5 485.4L460.6 485.4L460.7 485.4L460.8 485.4L460.9 485.4L461 485.4L461.1 485.4L461.2 485.4L461.3 483.5L461.4 485.4L461.5 485.4L461.6 485.4L461.7 485.4L461.8 485.4L461.9 483.8L462 485.4L462.1 485.4L462.2 482.3L462.3 485.4L462.4 485.4L462.5 484.5L462.6 485.4L462.7 485.4L462.8 485.4L462.9 483L463 485.4L463.1 485.4L463.2 485.4L463.3 485.4L463.4 485.4L463.5 485.4L463.6 485.4L463.7 485.4L463.8 485.4L463.9 485.4L464 485.4L464.1 485.4L464.2 485.4L464.3 485.4L464.4 485.4L464.5 485.4L464.6 485.4L464.7 485.4L464.8 485.4L464.9 485.4L465 485.4L465.1 485.4L465.2 485.4L465.3 485.4L465.4 485.4L465.5 485.4L465.6 485.4L465.7 485.4L465.8 485.4L465.9 485.4L466 485.4L466.1 485.4L466.2 485.4L466.3 485.4L466.4 485.4L466.5 485.4L466.6 485.4L466.7 485.4L466.8 485.4L466.9 485.4L467 485.4L467.1 485.4L467.2 485.4L467.3 483.8L467.4 485.4L467.5 485.4L467.6 485.4L467.7 485.4L467.8 485.4L467.9 485.4L468 485.4L468.1 485.4L468.2 485.4L468.3 485.4L468.4 485.4L468.5 485.4L468.6 485.4L468.7 485.4L468.8 485.4L468.9 485.4L469 485.4L469.1 485.4L469.2 485.4L469.3 485.4L469.4 485.4L469.5 485.4L469.6 485.4L469.7 485.4L469.8 485.4L469.9 485.4L470 485.4L470.1 485.4L470.2 485.4L470.3 485.4L470.4 485.4L470.5 485.4L470.6 485.4L470.7 485.4L470.8 485.4L470.9 485.4L471 485.4L471.1 485.4L471.2 485.4L471.3 485.4L471.4 485.4L471.5 460.2L471.6 433L471.7 394L471.8 434.7L471.9 429.2L472 376.1L472.1 419.4L472.2 451.4L472.3 459L472.4 410L472.5 433.1L472.6 461.7L472.7 485.4L472.8 483.8L472.9 485.4L473 483.3L473.1 485.4L473.2 485.4L473.3 485.4L473.4 485.4L473.5 485.4L473.6 485.4L473.7 485.4L473.8 485.4L473.9 485.4L474 485.4L474.1 485.4L474.2 485.4L474.3 485.4L474.4 485.4L474.5 485.4L474.6 485.4L474.7 485.4L474.8 485.4L474.9 485.4L475 485.4L475.1 485.4L475.2 485.4L475.3 485.4L475.4 485.4L475.5 485.4L475.6 485.4L475.7 485.4L475.8 485.4L475.9 485.4L476 485.4L476.1 484.1L476.2 485.4L476.3 485.4L476.4 485.4L476.5 485.4L476.6 485.4L476.7 485.4L476.8 485.4L476.9 485.4L477 485.4L477.1 485.4L477.2 485.4L477.3 485.4L477.4 485.4L477.5 485.4L477.6 485.4L477.7 485.4L477.8 485.4L477.9 485.4L478 485.4L478.1 485.4L478.2 485.4L478.3 485.4L478.4 485.4L478.5 485.4L478.6 485.4L478.7 485.4L478.8 485.4L478.9 485.4L479 485.4L479.1 485.4L479.2 485.4L479.3 485.4L479.4 485.4L479.5 485.4L479.6 485.4L479.7 485.4L479.8 485.4L479.9 485.4L480 485.4L480.1 484.2L480.2 485.4L480.3 485.4L480.4 485.4L480.5 485.4L480.6 485.4L480.7 485.4L480.8 485.4L480.9 485.4L481 485.4L481.1 485.4L481.2 485.4L481.3 485.4L481.4 485.4L481.5 485.4L481.6 485.4L481.7 485.4L481.8 485.4L481.9 484.4L482 485.4L482.1 485.4L482.2 485.4L482.3 485.4L482.4 485.4L482.5 485.4L482.6 485.4L482.7 485.4L482.8 485.4L482.9 485.4L483 485.4L483.1 485.4L483.2 485.4L483.3 485.4L483.4 485.4L483.5 485.4L483.6 485.4L483.7 483.6L483.8 485.4L483.8 483.3L483.9 485.4L484 485.4L484.1 485.4L484.2 485.4L484.3 485.4L484.4 479L484.5 477.5L484.6 444.7L484.7 472.7L484.8 480.4L484.9 485.4L485 485.4L485.1 485.4L485.2 485.4L485.3 485.4L485.4 485.4L485.5 482.9L485.6 485.4L485.7 485.4L485.8 485.4L485.9 485.4L486 485.4L486.1 485.4L486.2 485.4L486.3 485.4L486.4 485.4L486.5 485.4L486.6 485.4L486.7 485.4L486.8 485.4L486.9 481.5L487 485.4L487.1 485.4L487.2 485.4L487.3 485.4L487.4 485.4L487.5 485.4L487.6 485.4L487.7 485.4L487.8 485.4L487.9 483.6L488 482L488.1 471.9L488.2 482L488.3 483L488.4 485.4L488.5 485.4L488.6 485.4L488.7 485.4L488.8 485.4L488.9 485.4L489 485.4L489.1 485.4L489.2 485.4L489.3 485.4L489.4 485.4L489.5 485.4L489.6 485.4L489.7 485.4L489.8 485.4L489.9 485.4L490 485.4L490.1 485.4L490.2 485.4L490.3 485.4L490.4 485.4L490.5 485.4L490.6 484.5L490.7 485.4L490.8 485.4L490.9 485.4L491 485.4L491.1 485.4L491.2 485.4L491.3 485.4L491.4 485.4L491.5 485.4L491.6 485.4L491.7 485.4L491.8 485.4L491.9 485.4L492 485.4L492.1 485.4L492.2 485.4L492.3 485.4L492.4 485.4L492.5 485.4L492.6 485.4L492.7 485.4L492.8 485.4L492.9 485.4L493 485.4L493.1 484.6L493.2 483.8L493.3 485.4L493.4 485.4L493.5 484.5L493.6 485.4L493.7 485.4L493.8 485.4L493.9 485.4L494 485.4L494.1 485.4L494.2 480.8L494.3 485.4L494.4 485.4L494.5 485.4L494.6 485.4L494.7 485.4L494.8 485.4L494.9 485.4L495 485.4L495.1 485.4L495.2 485.4L495.3 484.8L495.4 485.4L495.5 483.9L495.6 485.4L495.7 485.4L495.8 485.4L495.9 485.4L496 485.4L496.1 485.4L496.2 485.4L496.3 485.4L496.4 485.4L496.5 485.4L496.6 485.4L496.7 485.4L496.8 485.4L496.9 485.4L497 485.4L497.1 485.4L497.2 485.4L497.3 485.4L497.4 485.4L497.5 485.4L497.6 485.4L497.7 484.2L497.8 485.4L497.9 484.3L498 485.4L498.1 485.4L498.2 476.7L498.3 461.1L498.4 453.6L498.5 343.2L498.6 455L498.7 461.1L498.8 473.1L498.9 485.4L499 485.4L499.1 485.4L499.2 485.4L499.3 485.4L499.4 485.4L499.5 483.8L499.6 485.4L499.7 485.4L499.8 483.8L499.9 485.4L500 485.4L500.1 485.4L500.2 485.4L500.3 485.4L500.4 485.4L500.5 485.4L500.6 485.4L500.7 485.4L500.8 485.4L500.9 485.4L501 485.4L501.1 485.4L501.2 485.4L501.3 485.4L501.4 485.4L501.5 485.4L501.6 485.4L501.7 485.4L501.8 485.4L501.9 485.4L502 485.4L502.1 485.4L502.2 485.4L502.3 485.4L502.4 485.4L502.5 485.4L502.6 480.8L502.7 485.4L502.8 485.4L502.9 485.4L503 485.4L503.1 485.4L503.2 485.4L503.3 485.4L503.4 484.4L503.5 481.2L503.6 479.4L503.7 483.6L503.8 484.5L503.9 485.4L504 485.4L504.1 485.4L504.2 485.4L504.3 485.4L504.4 485.4L504.5 485.4L504.6 485.4L504.7 485.4L504.8 485.4L504.9 485.4L505 485.4L505.1 485.4L505.2 485.4L505.3 485.4L505.4 485.4L505.5 485.4L505.6 485.4L505.7 485.4L505.8 485.4L505.9 485.4L506 485.4L506.1 485.4L506.2 485.4L506.3 485.4L506.4 485.4L506.5 485.4L506.6 485.4L506.7 485.4L506.8 483.5L506.9 482.1L507 479.3L507.1 452L507.2 474.7L507.3 480.5L507.4 485.4L507.5 485.4L507.6 484.2L507.6 481L507.7 485.4L507.8 484.2L507.9 485.4L508 485.4L508.1 485.4L508.2 485.4L508.3 485.4L508.4 485.4L508.5 485.4L508.6 485.4L508.7 485.4L508.8 485.4L508.9 485.4L509 485.4L509.1 485.4L509.2 485.4L509.3 485.4L509.4 485.4L509.5 485.4L509.6 485.4L509.7 485.4L509.8 485.4L509.9 485.4L510 485.4L510.1 485.4L510.2 485.4L510.3 485.4L510.4 485.4L510.5 485.4L510.6 485.4L510.7 485.4L510.8 485.4L510.9 485.4L511 485.4L511.1 485.4L511.2 485.4L511.3 485.4L511.4 485.4L511.5 485.4L511.6 485.4L511.7 485.4L511.8 485.4L511.9 485.4L512 485.4L512.1 485.4L512.2 485.4L512.3 485.4L512.4 485.4L512.5 485.4L512.6 485.4L512.7 485.4L512.8 485.4L512.9 485.4L513 485.4L513.1 485.4L513.2 485.4L513.3 485.4L513.4 485.4L513.5 485.4L513.6 485.4L513.7 485.4L513.8 485.4L513.9 480.9L514 478.2L514.1 454.1L514.2 478.5L514.3 480.1L514.4 485.4L514.5 485.4L514.6 485.4L514.7 485.4L514.8 485.4L514.9 485.4L515 485.4L515.1 485.4L515.2 485.4L515.3 485.4L515.4 485.4L515.5 485.4L515.6 485.4L515.7 485.4L515.8 485.4L515.9 484.9L516 485.4L516.1 485.4L516.2 485.4L516.3 485.4L516.4 485.4L516.5 485.4L516.6 485.4L516.7 485.4L516.8 485.4L516.9 485.4L517 485.4L517.1 484.8L517.2 485.4L517.3 485.4L517.4 485.4L517.5 485.4L517.6 484.3L517.7 485.4L517.8 485.4L517.9 485.4L518 484.6L518.1 485.4L518.2 485.4L518.3 485.4L518.4 485.4L518.5 485.4L518.6 485.4L518.7 485.4L518.8 485.4L518.9 485.4L519 485.4L519.1 485.4L519.2 483.7L519.3 485.4L519.4 485.4L519.5 485.4L519.6 485.4L519.7 485.4L519.8 485.4L519.9 485.4L520 485.4L520.1 485.4L520.2 485.4L520.3 485.4L520.4 485.4L520.5 485.4L520.6 485.4L520.7 485.4L520.8 480L520.9 478.2L521 445.3L521.1 476L521.2 480.7L521.3 485.4L521.4 485.4L521.5 485.4L521.6 485.4L521.7 485.4L521.8 485.4L521.9 485.4L522 485.4L522.1 485.4L522.2 484.8L522.3 485.4L522.4 485.4L522.5 485.4L522.6 485.4L522.7 485.4L522.8 484.9L522.9 483.5L523 480L523.1 483.6L523.2 484.5L523.3 485.4L523.4 485.4L523.5 485.4L523.6 485.4L523.7 485.4L523.8 485.4L523.9 485.4L524 485.4L524.1 485.4L524.2 484.8L524.3 485.4L524.4 481.6L524.5 485.4L524.6 485.4L524.7 485.4L524.8 485.4L524.9 485.4L525 485.4L525.1 485.4L525.2 485.4L525.3 485.4L525.4 485.4L525.5 485.4L525.6 485.4L525.7 484.7L525.8 485.4L525.9 485.4L526 485.4L526.1 485.4L526.2 484.2L526.3 485.4L526.4 485.4L526.5 485.4L526.6 485.4L526.7 485.4L526.8 485.4L526.9 485.4L527 485.4L527.1 485.4L527.2 485.4L527.3 485.4L527.4 484.6L527.5 485.4L527.6 485.4L527.7 481.5L527.8 485.4L527.9 485.4L528 485.4L528.1 485.4L528.2 485.4L528.3 485.4L528.4 485.4L528.5 485.4L528.6 485.4L528.7 481.9L528.8 485.4L528.9 485.4L529 485.4L529.1 485.4L529.2 485.4L529.3 485.4L529.4 485.4L529.5 485.4L529.6 485.4L529.7 485.4L529.8 485.4L529.9 485.4L530 485.4L530.1 485.4L530.2 460.7L530.3 435.8L530.4 418.4L530.5 237.2L530.6 438.3L530.7 444L530.8 466.8L530.9 485.4L531 485.4L531.1 485.4L531.2 484.1L531.3 485.4L531.4 485.4L531.5 485.4L531.6 485.4L531.7 485.4L531.8 485.4L531.9 485.4L532 484.8L532.1 485.4L532.2 485.4L532.3 485.4L532.4 485.4L532.5 485.4L532.6 485.4L532.7 485.4L532.8 485.4L532.9 485.4L533 484.9L533.1 485.4L533.2 485.4L533.3 485.4L533.4 485.4L533.5 485.4L533.6 485.4L533.7 485.4L533.8 485.4L533.9 485.4L534 485.4L534.1 485.4L534.2 485.4L534.3 485.4L534.4 485.4L534.5 485.4L534.6 485.4L534.7 485.4L534.8 485.4L534.9 485.4L535 485.4L535.1 485.4L535.2 485.4L535.3 485.4L535.4 485.4L535.5 485.4L535.6 485.4L535.7 485.4L535.8 485.4L535.9 485.4L536 485.4L536.1 485.4L536.2 485.4L536.3 485.4L536.4 485.4L536.5 485.4L536.6 485.4L536.7 485.4L536.8 485.4L536.9 485.4L537 485.4L537.1 485.4L537.2 485.4L537.3 485.4L537.4 485.4L537.5 485.4L537.6 485.4L537.7 485.4L537.8 485.4L537.9 485.4L538 485.4L538.1 485.4L538.2 485.4L538.3 485.4L538.4 485.4L538.5 485.4L538.6 485.4L538.7 485.4L538.8 484.4L538.9 483.5L539 485.4L539.1 485.4L539.2 485.4L539.3 485.4L539.4 484.8L539.5 483.7L539.6 478.4L539.7 484L539.8 484.3L539.9 485.4L540 485.4L540.1 485.4L540.2 485.4L540.3 485.4L540.4 485.4L540.5 485.4L540.6 485.4L540.7 485.4L540.8 485.4L540.9 485.4L541 485.4L541.1 485.4L541.2 485.4L541.3 485.4L541.4 485.4L541.5 485.4L541.6 485.4L541.7 485.4L541.8 485.4L541.9 485.4L542 485.4L542.1 485.4L542.2 485.4L542.3 485.4L542.4 485.4L542.5 485.4L542.6 485.4L542.7 485.4L542.8 485.4L542.9 484.4L543 485.4L543.1 484.4L543.2 485.4L543.3 485.4L543.4 485.4L543.5 485.4L543.6 485.4L543.7 483.9L543.8 485.4L543.9 485.4L544 485.4L544.1 485.4L544.2 485.4L544.3 485.4L544.4 485.4L544.5 485.4L544.6 485.4L544.7 484.4L544.8 485.4L544.9 485.4L545 485.4L545.1 485.4L545.2 485.4L545.3 485.4L545.4 485.4L545.5 485.4L545.6 485.4L545.7 485.4L545.8 485.4L545.9 485.4L546 485.4L546.1 485.4L546.2 485.4L546.3 485.4L546.4 483.8L546.5 485.4L546.6 485.4L546.7 485.4L546.8 485.4L546.9 485.4L547 484.4L547.1 485.4L547.2 485.4L547.3 485.4L547.4 483.6L547.5 481.9L547.6 474.3L547.7 481.9L547.8 484.3L547.9 485.4L548 485.4L548.1 485.4L548.2 485.4L548.3 485.4L548.4 485.4L548.5 485.4L548.6 484.8L548.7 485.4L548.8 485.4L548.9 485.4L549 485.4L549.1 485.4L549.2 485.4L549.3 485.4L549.4 485.4L549.5 485.4L549.6 485.4L549.7 485.4L549.8 485.4L549.9 485.4L550 485.4L550.1 485.4L550.2 485.4L550.3 485.4L550.4 485.4L550.5 485.4L550.6 485.4L550.7 480.7L550.8 485.4L550.9 484.7L551 483.9L551.1 477.4L551.2 482.8L551.3 484.1L551.4 485.4L551.5 485.4L551.6 485.4L551.7 485.4L551.8 485.4L551.9 485.4L552 485.4L552.1 485.4L552.2 485.4L552.3 485.4L552.4 485.4L552.5 485.4L552.6 485.4L552.7 485.4L552.8 485.4L552.9 485.4L553 485.4L553.1 484.6L553.2 485.4L553.3 485.4L553.4 485.4L553.5 485.4L553.6 485.4L553.7 485.4L553.8 485.4L553.9 485.4L554 485.4L554.1 485.4L554.2 485.4L554.3 485.4L554.4 485.4L554.5 485.4L554.6 485.4L554.7 485.4L554.8 485.4L554.9 485.4L555 485.4L555.1 485.4L555.2 485.4L555.3 485.4L555.4 485.4L555.5 485.4L555.6 485.4L555.7 485.4L555.8 485.4L555.9 485.4L556 485.4L556.1 485.4L556.2 485.4L556.3 485.4L556.4 485.4L556.5 485.4L556.6 485.4L556.7 485.4L556.8 485.4L556.9 485.4L557 483.6L557.1 485.4L557.2 466.4L557.3 444.5L557.4 393L557.5 436.6L557.6 468.3L557.7 451.4L557.8 420.8L557.9 366.9L558 418.2L558.1 447.9L558.2 475.1L558.3 465L558.4 437.2L558.5 396L558.6 439L558.7 455.5L558.8 484.8L558.9 485.4L559 485.4L559.1 485.4L559.2 485.4L559.3 485.4L559.4 485.4L559.5 485.4L559.6 485.4L559.7 485.4L559.8 485.4L559.9 485.4L560 485.4L560.1 485.4L560.2 485.4L560.3 485.4L560.4 485.4L560.5 485.4L560.6 485.4L560.7 485.4L560.8 485.4L560.9 485.4L561 485.4L561.1 485.4L561.2 485.4L561.3 485.4L561.4 484.6L561.5 484L561.6 479L561.7 483.3L561.8 484.8L561.9 485.4L562 485.4L562.1 485.4L562.2 485.4L562.3 485.4L562.4 485.4L562.5 485.4L562.6 485.4L562.7 485.4L562.8 485.4L562.9 483.8L563 485.4L563.1 485.4L563.2 485.4L563.3 485.4L563.4 485.4L563.5 485.4L563.6 485.4L563.7 485.4L563.8 485.4L563.9 485.4L564 484.4L564.1 483.9L564.2 477L564.3 482.5L564.4 484.4L564.5 485.4L564.6 485.4L564.7 485.4L564.8 485.4L564.9 485.4L565 485.4L565.1 485.4L565.2 485.4L565.3 485.4L565.4 485.4L565.5 485.4L565.6 483.8L565.7 485.4L565.8 485.4L565.9 485.4L566 485.4L566.1 485.4L566.2 485.4L566.3 485.4L566.4 485.4L566.5 485.4L566.6 485.4L566.7 485.4L566.8 485.4L566.9 485.4L567 485.4L567.1 485.4L567.2 485.4L567.3 485.4L567.4 485.4L567.5 485.4L567.6 485.4L567.7 485.4L567.8 485.4L567.9 485.4L568 485.4L568.1 485.4L568.2 485.4L568.3 485.4L568.4 485.4L568.5 485.4L568.6 485.4L568.7 485.4L568.8 485.4L568.9 483.6L569 485.4L569.1 483.8L569.2 485.4L569.3 485.4L569.4 485.4L569.5 485.4L569.6 485.4L569.7 485.4L569.8 485.4L569.9 485.4L570 485.4L570.1 485.4L570.2 485.4L570.3 484L570.4 485.4L570.5 485.4L570.6 485.4L570.7 485.4L570.8 485.4L570.9 485.4L571 485.4L571.1 484.6L571.2 482.7L571.3 482.1L571.4 485.4L571.5 485.4L571.6 485.4L571.7 485.4L571.8 485.4L571.9 481.9L572 478.2L572.1 462.7L572.2 479.1L572.3 481.5L572.4 485.4L572.5 485.4L572.6 485.4L572.7 485.4L572.8 483.8L572.9 485.4L573 485.4L573.1 485.4L573.2 485.4L573.3 480.7L573.4 485.4L573.5 485.4L573.6 485.4L573.7 485.4L573.8 485.4L573.9 485.4L574 485.4L574.1 485.4L574.2 485.4L574.3 485.4L574.4 485.4L574.5 485.4L574.6 485.4L574.7 485.4L574.8 485.4L574.9 485.4L575 485.4L575.1 482.4L575.2 485.4L575.3 485.4L575.4 484L575.5 485.4L575.6 485.4L575.7 485.4L575.8 485.4L575.9 485.4L576 485.4L576.1 485.4L576.2 485.4L576.3 485.4L576.4 485.4L576.5 485.4L576.6 484.3L576.7 485.4L576.8 485.4L576.9 485.4L577 485.4L577.1 485.4L577.2 485.4L577.3 485.4L577.4 485.4L577.5 485.4L577.6 485.4L577.7 485.4L577.8 485.4L577.9 483.6L578 483.9L578.1 485.4L578.2 485.4L578.3 485.4L578.4 485.4L578.5 485.4L578.6 485.4L578.7 485.4L578.8 485.4L578.9 485.4L579 485.4L579.1 485.4L579.2 485.4L579.3 485.4L579.4 485.4L579.5 485.4L579.6 485.4L579.7 485.4L579.8 485.4L579.9 485.4L580 484.3L580.1 485.4L580.2 485.4L580.3 485.4L580.4 485.4L580.5 485.4L580.6 485.4L580.7 485.4L580.8 485.4L580.9 485.4L581 485.4L581.1 485.4L581.2 485.4L581.3 485.4L581.4 484.3L581.5 485.4L581.6 485.4L581.7 485.4L581.8 471.6L581.9 446L582 420L582.1 443.6L582.2 414.3L582.3 349.8L582.4 240.5L582.5 348.2L582.6 411.5L582.7 458.9L582.8 468.1L582.9 428.7L583 391L583.1 428.2L583.2 458.7L583.3 485.4L583.4 485.4L583.5 485.4L583.6 485.4L583.7 483.8L583.8 485.4L583.9 485.4L584 485.4L584.1 485.4L584.2 485.4L584.3 485.4L584.4 483.9L584.5 485.4L584.6 485.4L584.7 484.4L584.8 483.2L584.9 479L585 483.2L585.1 484.8L585.2 485.4L585.3 485.4L585.4 485.4L585.5 485.4L585.6 481.2L585.7 485.4L585.8 485.4L585.9 485.4L586 485.4L586.1 485.4L586.2 485.4L586.3 485.4L586.4 485.4L586.5 485.4L586.6 485.4L586.7 485.4L586.8 485.4L586.9 485.4L587 485.4L587.1 485.4L587.2 485.4L587.3 485.4L587.4 485.4L587.5 485.4L587.6 485.4L587.7 485.4L587.8 485.4L587.9 481L588 485.4L588.1 485.4L588.2 485.4L588.3 485.4L588.4 485.4L588.5 485.4L588.6 485.4L588.7 485.4L588.8 485.4L588.9 485.4L589 485.4L589.1 485.4L589.2 484.6L589.3 485.4L589.4 485.4L589.5 485.4L589.6 485.4L589.7 485.4L589.8 485.4L589.9 485.4L590 485.4L590.1 485.4L590.2 485.4L590.3 485.4L590.4 485.4L590.5 485.4L590.6 485.4L590.7 485.4L590.8 485.4L590.9 485.4L591 485.4L591.1 485.4L591.2 485.4L591.3 485.4L591.4 485.4L591.5 485.4L591.6 485.4L591.7 485.4L591.8 485.4L591.9 485.4L592 485.4L592.1 485.4L592.2 485.4L592.3 485.4L592.4 485.4L592.5 485.4L592.6 485.4L592.7 485.4L592.8 485.4L592.9 485.4L593 485.4L593.1 485.4L593.2 485.4L593.3 485.4L593.4 485.4L593.5 485.4L593.6 485.4L593.7 485.4L593.8 485.4L593.9 485.4L594 484.3L594.1 485.4L594.2 483.7L594.3 485.4L594.4 483.5L594.5 485.4L594.6 485.4L594.7 484.8L594.8 485.4L594.9 485.4L595 485.4L595.1 485.4L595.2 485.4L595.3 485.4L595.4 485.4L595.5 485.4L595.6 485.4L595.7 485.4L595.8 485.4L595.9 483.9L596 485.4L596.1 485.4L596.2 485.4L596.3 485.4L596.4 485.4L596.5 485.4L596.6 485.4L596.7 485.4L596.8 485.4L596.9 485.4L597 485.4L597.1 485.4L597.2 485.4L597.3 485.4L597.4 485.4L597.5 485.4L597.6 485.4L597.7 485.4L597.8 485.4L597.9 485.4L598 485.4L598.1 485.4L598.2 485.4L598.3 485.4L598.4 485.4L598.5 485.4L598.6 485.4L598.7 485.4L598.8 485.4L598.9 485.4L599 485.4L599.1 485.4L599.2 485.4L599.3 484.9L599.4 484.7L599.5 482L599.6 484.6L599.7 485L599.8 485.4L599.9 485.4L600 485.4L600.1 485.4L600.2 485.4L600.3 485.4L600.4 485.4L600.5 485.4L600.6 485.4L600.7 485.4L600.8 485.4L600.9 485.4L601 482.2L601.1 484.2L601.2 485.4L601.3 485.4L601.4 485.4L601.5 485.4L601.6 485.4L601.7 485.4L601.8 485.4L601.9 485.4L602 485.4L602.1 485.4L602.2 485.4L602.3 485.4L602.4 485.4L602.5 485.4L602.6 485.4L602.7 485.4L602.8 484.8L602.9 484.3L603 485.4L603.1 485.4L603.2 485.4L603.3 485.4L603.4 485.4L603.5 485.4L603.6 484.4L603.7 485.4L603.8 485.4L603.9 484.1L604 485.4L604.1 485.4L604.2 485.4L604.3 485.4L604.4 485.4L604.5 485.4L604.6 485.4L604.7 483.2L604.8 483L604.9 472.5L605 482.2L605.1 484.1L605.2 483.7L605.3 485.4L605.4 485.4L605.5 485.4L605.6 485.4L605.7 485.4L605.8 485.4L605.9 485.4L606 485.4L606.1 485.4L606.2 485.4L606.3 485.4L606.4 485.4L606.5 485.4L606.6 485.4L606.7 485.4L606.8 485.4L606.9 485.4L607 485.4L607.1 484.3L607.2 485.4L607.3 485.4L607.4 485.4L607.5 485.4L607.6 485.4L607.7 485.4L607.8 485.4L607.9 485.4L608 485.4L608.1 484.5L608.2 485.4L608.3 483.8L608.4 484L608.5 485.4L608.6 485.4L608.7 485.4L608.8 485.4L608.9 485.4L609 485.4L609.1 485.4L609.2 485.4L609.3 485.4L609.4 485.4L609.5 485.4L609.6 485.4L609.7 485.4L609.8 485.4L609.9 485.4L610 485.4L610.1 485.4L610.2 485.4L610.3 485.4L610.4 485.4L610.5 485.4L610.6 484.5L610.7 485.4L610.8 485.4L610.9 485.4L611 485.4L611.1 485.4L611.2 485.4L611.3 485.4L611.4 484.4L611.5 485.4L611.6 485.4L611.7 485.4L611.8 485.4L611.9 485.4L612 485.4L612.1 485.4L612.2 485.4L612.3 485.4L612.4 485.4L612.5 485.4L612.6 485.4L612.7 485.4L612.8 485.4L612.9 485.4L613 483.7L613.1 485.4L613.2 485.4L613.3 485.4L613.4 485.4L613.5 485.4L613.6 485.4L613.7 485.4L613.8 485.4L613.9 485.4L614 485.4L614.1 485.4L614.2 485.4L614.3 485.4L614.4 485.4L614.5 485.4L614.6 485.4L614.7 485.4L614.8 485.4L614.9 485.4L615 485.4L615.1 485.4L615.2 485.4L615.3 485.4L615.4 485.4L615.5 485.4L615.6 485.4L615.7 485.4L615.8 465.3L615.9 434.3L616 392L616.1 439.8L616.2 464.7L616.3 451.7L616.4 425.3L616.5 367.5L616.6 417.9L616.7 449.8L616.8 467.2L616.9 426.4L617 395L617.1 433.8L617.2 454.8L617.3 485.4L617.4 485.4L617.5 485.4L617.6 485.4L617.7 484.4L617.8 485.4L617.9 485.4L618 485.4L618.1 485.4L618.2 485.4L618.3 485.4L618.4 485.4L618.5 485.4L618.6 485.4L618.7 485.4L618.8 485.4L618.9 485.4L619 485.4L619.1 485.4L619.2 485.4L619.3 485.4L619.4 485.4L619.5 485.4L619.6 485.4L619.7 485.4L619.8 485.4L619.9 485.4L620 485.4L620.1 485.4L620.2 485.4L620.3 485.4L620.4 485.4L620.5 485.4L620.6 485.4L620.7 485.4L620.8 484.6L620.9 484.2L621 481L621.1 484.1L621.2 484.8L621.3 485.4L621.4 485.4" fill="none" stroke="#0000ff" stroke-width="1.65" stroke-linejoin="round"/>
<path d="M51.3 389.2H638.2" stroke="#ff0000" stroke-width="1.85" stroke-dasharray="6.5 2.71" fill="none"/>
<rect x="56.2" y="4.2" width="79.3" height="481.2" fill="#808080" fill-opacity="0.3"/>
<rect x="622.8" y="4.2" width="15.4" height="481.2" fill="#808080" fill-opacity="0.3"/>
</g>
<polygon points="142.5,349.4 143.9,353.8 148.5,353.8 144.8,356.4 146.2,360.8 142.5,358.1 138.8,360.8 140.2,356.4 136.5,353.8 141.1,353.8" fill="#ff0000" stroke="#ff0000" stroke-width="1" stroke-linejoin="miter"/>
<polygon points="154.1,343.7 155.5,348.1 160.1,348.1 156.4,350.7 157.8,355.1 154.1,352.4 150.4,355.1 151.8,350.7 148.1,348.1 152.7,348.1" fill="#ff0000" stroke="#ff0000" stroke-width="1" stroke-linejoin="miter"/>
<polygon points="180.5,285.3 181.9,289.7 186.5,289.7 182.8,292.3 184.2,296.7 180.5,294 176.8,296.7 178.2,292.3 174.5,289.7 179.1,289.7" fill="#ff0000" stroke="#ff0000" stroke-width="1" stroke-linejoin="miter"/>
<polygon points="232.4,232 233.8,236.4 238.4,236.4 234.7,239 236.1,243.4 232.4,240.7 228.7,243.4 230.1,239 226.4,236.4 231,236.4" fill="#ff0000" stroke="#ff0000" stroke-width="1" stroke-linejoin="miter"/>
<polygon points="249.4,321.6 250.8,326 255.4,326 251.7,328.6 253.1,333 249.4,330.3 245.7,333 247.1,328.6 243.4,326 248,326" fill="#ff0000" stroke="#ff0000" stroke-width="1" stroke-linejoin="miter"/>
<polygon points="279.8,307 281.2,311.4 285.8,311.4 282.1,314 283.5,318.4 279.8,315.7 276.1,318.4 277.5,314 273.8,311.4 278.4,311.4" fill="#ff0000" stroke="#ff0000" stroke-width="1" stroke-linejoin="miter"/>
<polygon points="300.1,297.4 301.5,301.8 306.1,301.8 302.4,304.4 303.8,308.8 300.1,306.1 296.4,308.8 297.8,304.4 294.1,301.8 298.7,301.8" fill="#ff0000" stroke="#ff0000" stroke-width="1" stroke-linejoin="miter"/>
<polygon points="330.2,313.8 331.6,318.2 336.2,318.2 332.5,320.8 333.9,325.2 330.2,322.5 326.5,325.2 327.9,320.8 324.2,318.2 328.8,318.2" fill="#ff0000" stroke="#ff0000" stroke-width="1" stroke-linejoin="miter"/>
<polygon points="424.4,367.4 425.8,371.8 430.4,371.8 426.7,374.4 428.1,378.8 424.4,376.1 420.7,378.8 422.1,374.4 418.4,371.8 423,371.8" fill="#ff0000" stroke="#ff0000" stroke-width="1" stroke-linejoin="miter"/>
<polygon points="472,369.8 473.4,374.2 478,374.2 474.3,376.8 475.7,381.2 472,378.5 468.3,381.2 469.7,376.8 466,374.2 470.6,374.2" fill="#ff0000" stroke="#ff0000" stroke-width="1" stroke-linejoin="miter"/>
<polygon points="557.9,360.6 559.3,365 563.9,365 560.2,367.6 561.6,372 557.9,369.3 554.2,372 555.6,367.6 551.9,365 556.5,365" fill="#ff0000" stroke="#ff0000" stroke-width="1" stroke-linejoin="miter"/>
<polygon points="582.4,234.2 583.8,238.6 588.4,238.6 584.7,241.2 586.1,245.6 582.4,242.9 578.7,245.6 580.1,241.2 576.4,238.6 581,238.6" fill="#ff0000" stroke="#ff0000" stroke-width="1" stroke-linejoin="miter"/>
<polygon points="616.5,361.2 617.9,365.6 622.5,365.6 618.8,368.2 620.2,372.6 616.5,369.9 612.8,372.6 614.2,368.2 610.5,365.6 615.1,365.6" fill="#ff0000" stroke="#ff0000" stroke-width="1" stroke-linejoin="miter"/>
<polygon points="263.5,356.6 264.5,359.8 267.9,359.8 265.2,361.7 266.2,364.9 263.5,363 260.8,364.9 261.8,361.7 259.1,359.8 262.5,359.8" fill="#fff" stroke="#ff0000" stroke-width="1" stroke-linejoin="miter"/>
<polygon points="290.5,253.1 291.5,256.3 294.9,256.3 292.2,258.2 293.2,261.4 290.5,259.5 287.8,261.4 288.8,258.2 286.1,256.3 289.5,256.3" fill="#fff" stroke="#ff0000" stroke-width="1" stroke-linejoin="miter"/>
<polygon points="380.3,311.7 381.3,314.9 384.7,314.9 382,316.8 383,320 380.3,318.1 377.6,320 378.6,316.8 375.9,314.9 379.3,314.9" fill="#fff" stroke="#ff0000" stroke-width="1" stroke-linejoin="miter"/>
<polygon points="390.9,383 391.9,386.2 395.3,386.2 392.6,388.1 393.6,391.3 390.9,389.4 388.2,391.3 389.2,388.1 386.5,386.2 389.9,386.2" fill="#fff" stroke="#ff0000" stroke-width="1" stroke-linejoin="miter"/>
<polygon points="498.5,338.6 499.5,341.8 502.9,341.8 500.2,343.7 501.2,346.9 498.5,345 495.8,346.9 496.8,343.7 494.1,341.8 497.5,341.8" fill="#fff" stroke="#ff0000" stroke-width="1" stroke-linejoin="miter"/>
<polygon points="530.5,232.6 531.5,235.8 534.9,235.8 532.2,237.7 533.2,240.9 530.5,239 527.8,240.9 528.8,237.7 526.1,235.8 529.5,235.8" fill="#fff" stroke="#ff0000" stroke-width="1" stroke-linejoin="miter"/>
<rect x="56.2" y="4.2" width="582" height="481.2" fill="none" stroke="#000" stroke-width="1.3"/>
<path d="M56.2 485.4v3.6M74.4 485.4v3.6M92.6 485.4v6M110.8 485.4v3.6M129 485.4v3.6M147.2 485.4v3.6M165.4 485.4v6M183.6 485.4v3.6M201.7 485.4v3.6M219.9 485.4v3.6M238.1 485.4v6M256.3 485.4v3.6M274.5 485.4v3.6M292.7 485.4v3.6M310.9 485.4v6M329 485.4v3.6M347.2 485.4v3.6M365.4 485.4v3.6M383.6 485.4v6M401.8 485.4v3.6M420 485.4v3.6M438.2 485.4v3.6M456.3 485.4v6M474.5 485.4v3.6M492.7 485.4v3.6M510.9 485.4v3.6M529.1 485.4v6M547.3 485.4v3.6M565.5 485.4v3.6M583.6 485.4v3.6M601.8 485.4v6M620 485.4v3.6M638.2 485.4v3.6M56.2 4.2h-6M56.2 28.3h-3.6M56.2 52.3h-3.6M56.2 76.4h-3.6M56.2 100.4h-6M56.2 124.5h-3.6M56.2 148.6h-3.6M56.2 172.6h-3.6M56.2 196.7h-6M56.2 220.7h-3.6M56.2 244.8h-3.6M56.2 268.9h-3.6M56.2 292.9h-6M56.2 317h-3.6M56.2 341h-3.6M56.2 365.1h-3.6M56.2 389.2h-6M56.2 413.2h-3.6M56.2 437.3h-3.6M56.2 461.3h-3.6M56.2 485.4h-6M638.2 485.4h6M638.2 437.3h3.6M638.2 389.2h6M638.2 341h3.6M638.2 292.9h6M638.2 244.8h3.6M638.2 196.7h6M638.2 148.6h3.6M638.2 100.4h6M638.2 52.3h3.6M638.2 4.2h6" stroke="#000" stroke-width="1.4" fill="none"/>
<g font-family='"Liberation Sans", sans-serif' font-size="11.5" fill="#000" stroke="#000" stroke-width="0.25" style="filter:grayscale(1)">
<text x="92.6" y="503.2" text-anchor="middle" textLength="28.6" lengthAdjust="spacingAndGlyphs">2004</text>
<text x="165.4" y="503.2" text-anchor="middle" textLength="28.6" lengthAdjust="spacingAndGlyphs">2006</text>
<text x="238.1" y="503.2" text-anchor="middle" textLength="28.6" lengthAdjust="spacingAndGlyphs">2008</text>
<text x="310.9" y="503.2" text-anchor="middle" textLength="28.6" lengthAdjust="spacingAndGlyphs">2010</text>
<text x="383.6" y="503.2" text-anchor="middle" textLength="28.6" lengthAdjust="spacingAndGlyphs">2012</text>
<text x="456.3" y="503.2" text-anchor="middle" textLength="28.6" lengthAdjust="spacingAndGlyphs">2014</text>
<text x="529.1" y="503.2" text-anchor="middle" textLength="28.6" lengthAdjust="spacingAndGlyphs">2016</text>
<text x="601.8" y="503.2" text-anchor="middle" textLength="28.6" lengthAdjust="spacingAndGlyphs">2018</text>
<text x="46.7" y="8.7" text-anchor="end" textLength="6.3" lengthAdjust="spacingAndGlyphs">0</text>
<text x="46.7" y="104.9" text-anchor="end" textLength="30.2" lengthAdjust="spacingAndGlyphs">−100</text>
<text x="46.7" y="201.2" text-anchor="end" textLength="30.2" lengthAdjust="spacingAndGlyphs">−200</text>
<text x="46.7" y="297.4" text-anchor="end" textLength="30.2" lengthAdjust="spacingAndGlyphs">−300</text>
<text x="46.7" y="393.7" text-anchor="end" textLength="30.2" lengthAdjust="spacingAndGlyphs">−400</text>
<text x="46.7" y="489.9" text-anchor="end" textLength="30.2" lengthAdjust="spacingAndGlyphs">−500</text>
<text x="647.2" y="489.9" textLength="6.3" lengthAdjust="spacingAndGlyphs">0</text>
<text x="647.2" y="393.7" textLength="21.5" lengthAdjust="spacingAndGlyphs">100</text>
<text x="647.2" y="297.4" textLength="21.5" lengthAdjust="spacingAndGlyphs">200</text>
<text x="647.2" y="201.2" textLength="21.5" lengthAdjust="spacingAndGlyphs">300</text>
<text x="647.2" y="104.9" textLength="21.5" lengthAdjust="spacingAndGlyphs">400</text>
<text x="647.2" y="8.7" textLength="21.5" lengthAdjust="spacingAndGlyphs">500</text>
</g>
<g font-family='"Liberation Sans", sans-serif' font-size="12.8" fill="#000" style="filter:grayscale(1)">
<text x="347.2" y="518.3" text-anchor="middle" textLength="27.4" lengthAdjust="spacingAndGlyphs" stroke="#000" stroke-width="0.2">Year</text>
<text transform="translate(9.7 244.6) rotate(-90)" text-anchor="middle" textLength="173.5" lengthAdjust="spacingAndGlyphs" stroke="#000" stroke-width="0.18">GNSS displacements (mm)</text>
<text transform="translate(682.3 244.6) rotate(-90)" text-anchor="middle" textLength="133.5" lengthAdjust="spacingAndGlyphs" stroke="#000" stroke-width="0.18">Daily count of VLFEs</text>
</g>
</svg>
</body>
</html>
